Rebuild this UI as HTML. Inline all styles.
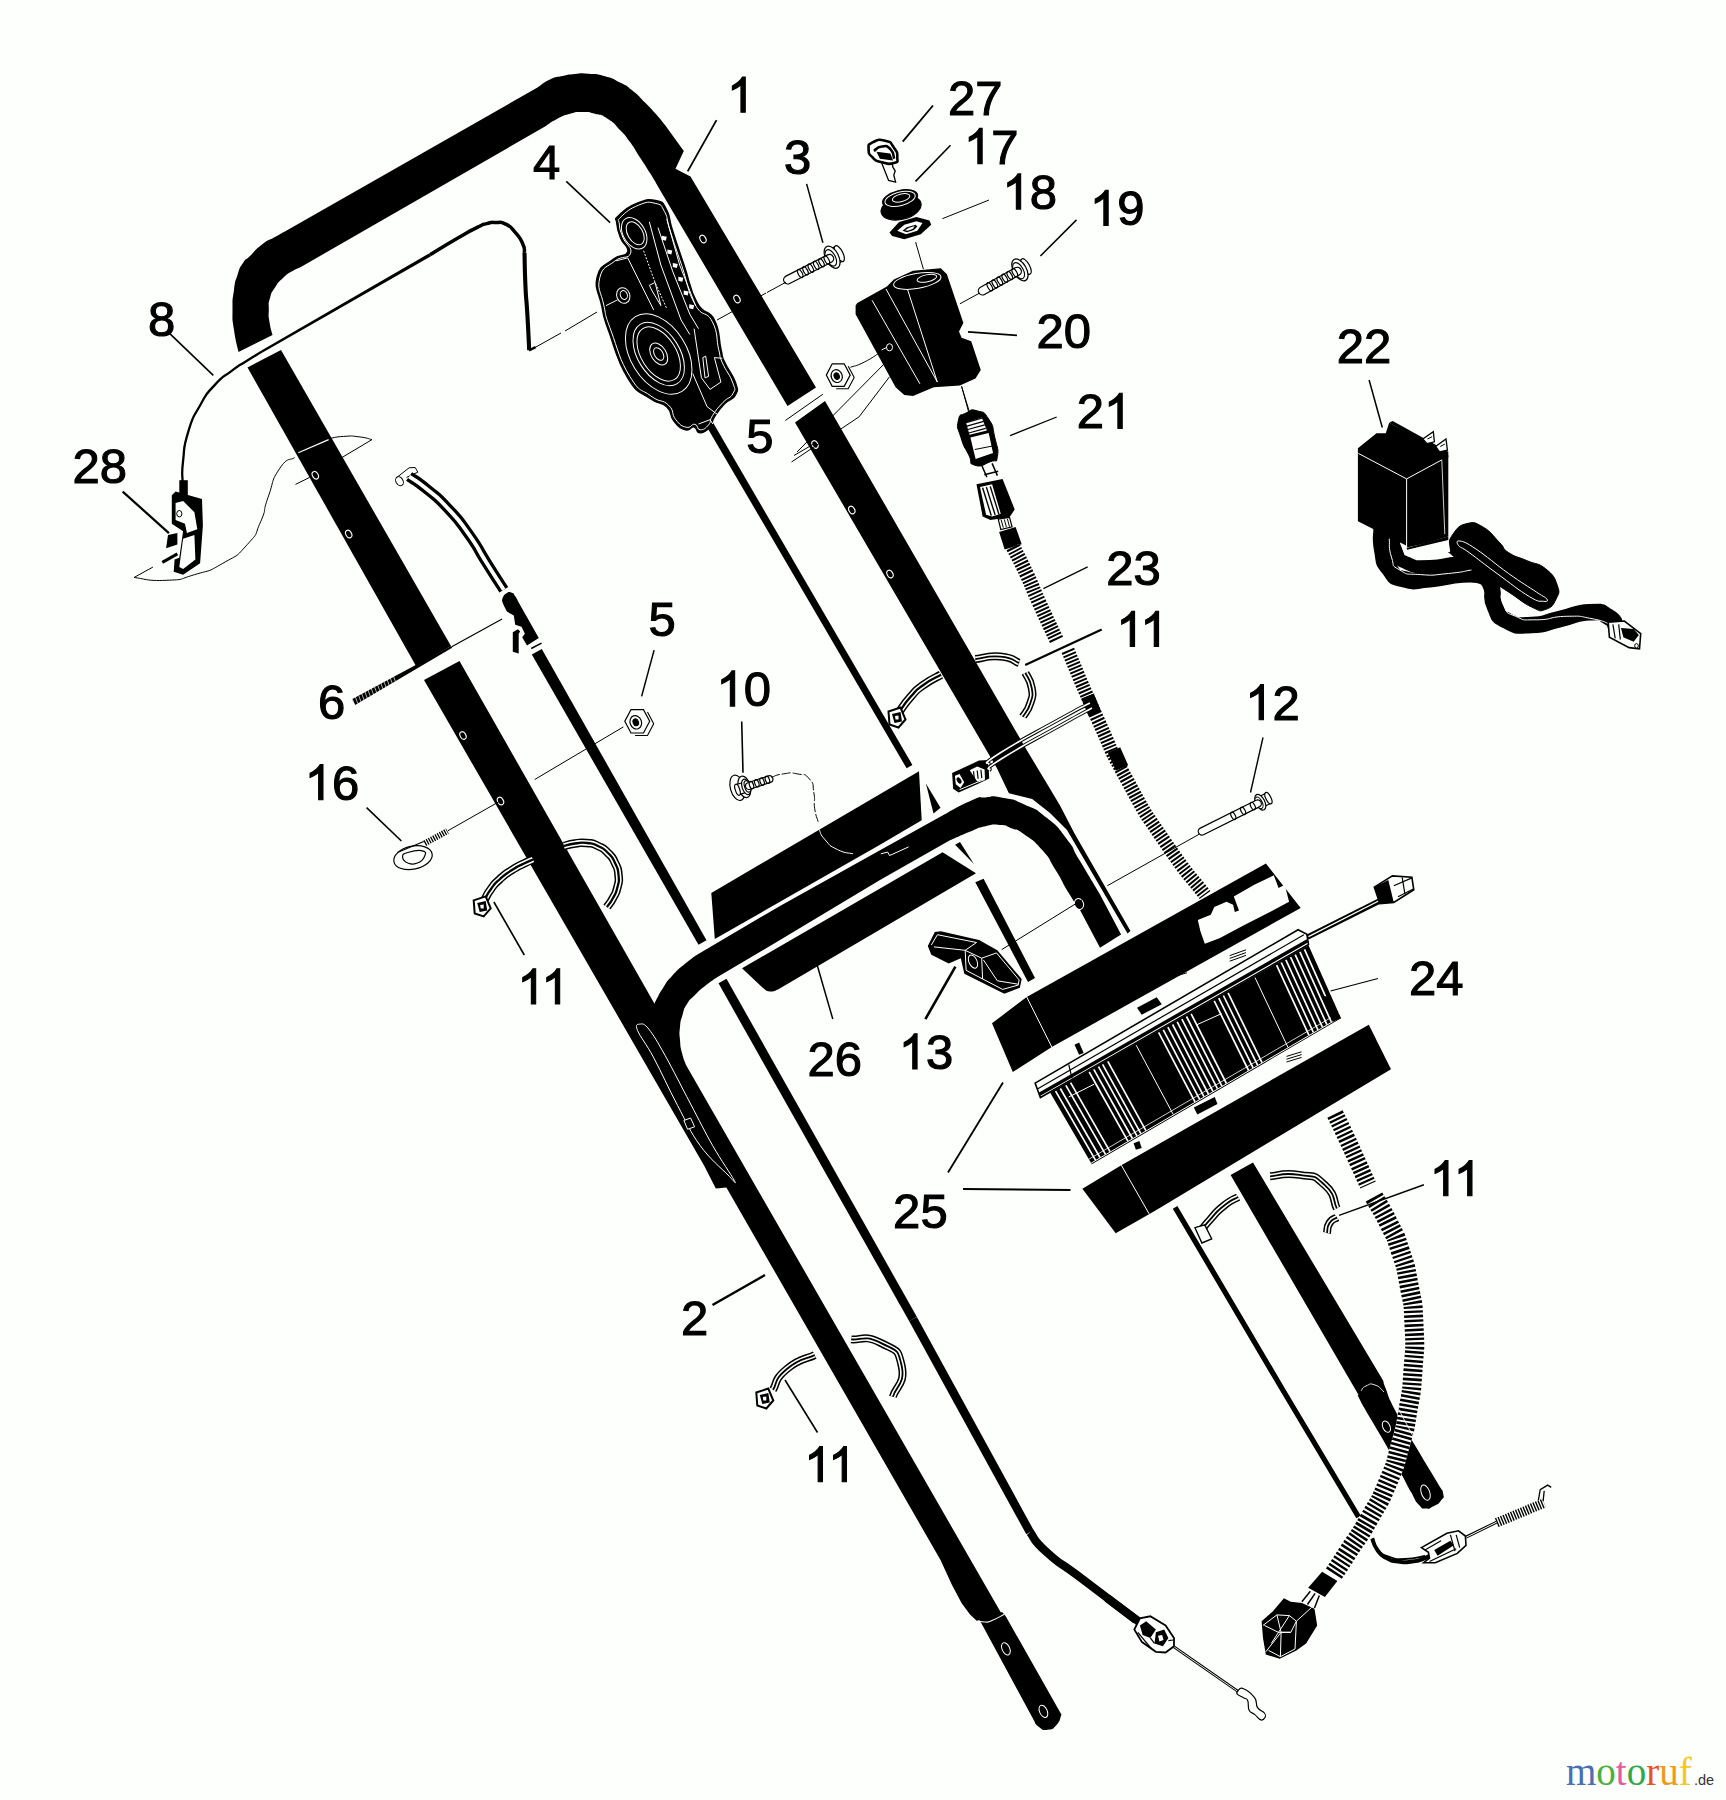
<!DOCTYPE html>
<html><head><meta charset="utf-8"><title>Parts diagram</title>
<style>
html,body{margin:0;padding:0;background:#fdfffd;}
body{width:1726px;height:1800px;overflow:hidden;}
svg{display:block;}
text{font-family:"Liberation Sans",sans-serif;fill:#000;}
.lb{stroke:#000;stroke-width:1.1px;}
</style></head><body>
<svg xmlns="http://www.w3.org/2000/svg" width="1726" height="1800" viewBox="0 0 1726 1800">
<rect width="1726" height="1800" fill="#fdfffd"/>
<path d="M238.5,352.0 C237.0,344.7 236.0,344.0 234.0,330.0 C232.0,316.0 232.5,323.3 232.5,310.0 C232.5,296.7 232.3,301.7 234.0,290.0 C235.7,278.3 234.5,284.0 237.5,275.0 C240.5,266.0 238.8,269.3 243.0,263.0 C247.2,256.7 243.7,262.2 250.0,256.0 C256.3,249.8 253.7,250.8 262.0,244.5 C270.3,238.2 266.5,241.8 275.0,237.0 C283.5,232.2 283.3,232.3 287.5,230.0 L537.5,87.5 C541.7,84.8 541.7,83.3 550.0,79.5 C558.3,75.7 554.2,77.8 562.5,76.0 C570.8,74.2 566.7,74.8 575.0,74.0 C583.3,73.2 577.8,73.1 587.5,73.8 C597.2,74.4 593.2,73.1 604.0,76.0 C614.8,78.9 610.3,77.5 620.0,82.5 C629.7,87.5 624.7,84.3 633.0,91.0 C641.3,97.7 637.7,95.2 645.0,102.5 C652.3,109.8 648.3,105.5 655.0,113.0 C661.7,120.5 661.7,121.0 665.0,125.0 L683.8,151.0 L675.5,168.8 L690.5,176.5 L816.0,387.5 L787.5,406.0 L660.0,190.0 C656.7,184.3 656.7,183.8 650.0,173.0 C643.3,162.2 646.7,167.8 640.0,157.5 C633.3,147.2 636.7,151.2 630.0,142.0 C623.3,132.8 627.3,137.7 620.0,130.0 C612.7,122.3 616.3,124.4 608.0,119.0 C599.7,113.6 603.7,116.1 595.0,113.8 C586.3,111.4 590.3,112.0 582.0,112.0 C573.7,112.0 578.3,111.4 570.0,113.8 C561.7,116.1 565.3,114.8 557.0,119.0 C548.7,123.2 549.0,124.0 545.0,126.5 L300.0,267.5 C297.5,268.7 298.2,267.5 292.5,271.0 C286.8,274.5 288.8,272.5 283.0,278.0 C277.2,283.5 279.3,280.8 275.0,287.5 C270.7,294.2 272.1,290.5 270.0,298.0 C267.9,305.5 268.9,302.0 268.8,310.0 C268.6,318.0 268.2,313.7 269.5,322.0 C270.8,330.3 271.5,330.7 272.5,335.0Z" fill="#000" stroke="none" stroke-width="0" />
<polygon points="247.5,367.5 416.0,666.0 451.0,646.0 281.0,350.0" fill="#000" stroke="none" stroke-width="0" />
<polygon points="424.0,680.0 704.2,1165.8 715.8,1188.5 726.4,1187.5 740.0,1180.0 653.8,1002.5 459.5,661.0" fill="#000" stroke="none" stroke-width="0" />
<polygon points="795.0,422.5 825.0,401.0 1026.7,750.0 1046.7,783.3 1060.0,805.6 1074.4,833.3 1130.5,931.0 1127.5,933.5 1067.0,830.0 1050.0,813.0 1032.2,798.9 1008.9,793.3 996.7,767.8" fill="#000" stroke="none" stroke-width="0" />
<path d="M700.0,953.0 C695.3,956.3 695.3,955.3 686.0,963.0 C676.7,970.7 679.7,967.7 672.0,976.0 C664.3,984.3 667.8,980.8 663.0,988.0 C658.2,995.2 660.6,991.8 657.5,997.5 C654.4,1003.2 655.0,1002.5 653.8,1005.0 L640.0,1010.0 L726.4,1187.5 L940.5,1560.0 L952.0,1585.0 L961.7,1603.3 L970.0,1614.5 L977.0,1621.0 L1002.0,1614.5 L686.0,1065.0 C684.7,1061.0 684.0,1061.3 682.0,1053.0 C680.0,1044.7 680.7,1048.7 680.0,1040.0 C679.3,1031.3 679.2,1035.3 680.0,1027.0 C680.8,1018.7 680.2,1022.7 682.5,1015.0 C684.8,1007.3 682.8,1010.7 687.0,1004.0 C691.2,997.3 689.0,1001.0 695.0,995.0 C701.0,989.0 697.5,992.0 705.0,986.0 C712.5,980.0 713.3,980.0 717.5,977.0 L780.0,940.0 L880.0,880.1 L949.5,840.5 C956.5,837.5 958.8,836.2 970.4,831.5 C982.0,826.8 974.4,828.7 984.3,826.5 C994.2,824.3 990.8,824.3 1000.0,825.0 C1009.2,825.7 1003.9,825.4 1012.0,828.5 C1020.1,831.6 1014.3,827.2 1024.4,834.4 C1034.5,841.6 1031.8,838.1 1042.2,850.0 C1052.6,861.9 1046.7,855.6 1055.6,870.0 C1064.5,884.4 1060.8,880.0 1068.9,893.3 C1077.0,906.6 1076.3,904.4 1080.0,910.0 L1100.0,947.8 L1121.1,934.4 L1100.0,894.4 C1093.3,883.3 1091.1,879.6 1080.0,861.1 C1068.9,842.6 1077.8,853.3 1066.7,838.9 C1055.6,824.5 1060.8,829.3 1046.7,817.8 C1032.6,806.3 1039.2,811.1 1024.4,804.4 C1009.6,797.7 1015.1,800.1 1002.2,797.8 C989.3,795.5 996.3,796.4 985.7,797.4 C975.1,798.4 985.7,794.4 970.4,800.9 C955.1,807.4 950.0,811.6 939.8,816.9 L880.0,850.2 L780.0,905.9Z" fill="#000" stroke="none" stroke-width="0" />
<ellipse cx="1079.0" cy="904.0" rx="4.5" ry="5.5" transform="rotate(-20.0 1079.0 904.0)" fill="#000" stroke="#fff" stroke-width="1" />
<path d="M974.6,1612.3 L981.5,1623.4 L1033.7,1720.0 C1035.4,1722.4 1034.3,1723.7 1038.9,1727.0 C1043.5,1730.2 1041.8,1730.3 1047.6,1729.8 C1053.4,1729.2 1051.6,1730.2 1056.3,1725.3 C1060.9,1720.3 1059.7,1718.3 1061.5,1714.8 L1005.9,1616.5 L1002.4,1612.3Z" fill="#000" stroke="none" stroke-width="0" />
<path d="M1230.6,1175.0 L1253.0,1162.5 L1384.0,1382.0 C1384.5,1384.0 1381.5,1378.0 1385.5,1388.0 C1389.5,1398.0 1385.8,1392.3 1396.0,1412.0 C1406.2,1431.7 1402.3,1423.7 1416.0,1447.0 C1429.7,1470.3 1428.0,1466.7 1437.0,1482.0 C1446.0,1497.3 1441.7,1486.8 1443.0,1493.0 C1444.3,1499.2 1444.3,1496.0 1441.0,1500.5 C1437.7,1505.0 1438.0,1503.8 1433.0,1506.5 C1428.0,1509.2 1430.7,1509.0 1426.0,1508.5 C1421.3,1508.0 1424.0,1510.5 1419.0,1505.0 C1414.0,1499.5 1416.3,1501.3 1411.0,1492.0 C1405.7,1482.7 1410.0,1490.3 1403.0,1477.0 C1396.0,1463.7 1400.3,1470.7 1390.0,1452.0 C1379.7,1433.3 1382.0,1438.3 1372.0,1421.0 C1362.0,1403.7 1364.5,1408.7 1360.0,1400.0 C1355.5,1391.3 1359.1,1396.7 1358.6,1395.0Z" fill="#000" stroke="none" stroke-width="0" />
<polygon points="711.3,892.9 919.0,771.3 921.7,820.3 880.0,844.7 714.8,939.0" fill="#000" stroke="none" stroke-width="0" />
<path d="M742.0,968.3 L880.0,888.5 L942.6,852.3 L976.0,873.2 L828.2,960.0 L778.0,989.5 C775.3,990.2 775.0,992.0 770.0,991.5 C765.0,991.0 765.3,989.2 763.0,988.0Z" fill="#000" stroke="none" stroke-width="0" />
<polygon points="992.0,1023.3 1026.7,996.9 1265.9,863.4 1300.7,907.9 1051.8,1047.0 1012.8,1072.0" fill="#000" stroke="none" stroke-width="0" />
<line x1="1026.7" y1="996.9" x2="1051.8" y2="1047.0" stroke="#fff" stroke-width="1" />
<polygon points="1082.4,1188.8 1121.3,1165.2 1368.8,1024.7 1391.0,1069.2 1154.7,1211.0 1115.7,1233.3" fill="#000" stroke="none" stroke-width="0" />
<line x1="1121.3" y1="1165.2" x2="1149.1" y2="1213.8" stroke="#fff" stroke-width="1" />
<polygon points="1050.1,1092.4 1308.5,945.2 1341.0,1018.2 1091.8,1164.2" fill="#000" stroke="none" stroke-width="0" />
<line x1="1055.6" y1="1091.1" x2="1095.5" y2="1160.1" stroke="#fff" stroke-width="1.7" />
<line x1="1060.3" y1="1088.5" x2="1100.0" y2="1157.5" stroke="#fff" stroke-width="1.7" />
<line x1="1065.9" y1="1085.3" x2="1105.5" y2="1154.3" stroke="#fff" stroke-width="1.7" />
<line x1="1070.6" y1="1082.6" x2="1110.0" y2="1151.7" stroke="#fff" stroke-width="1.7" />
<line x1="1089.2" y1="1072.0" x2="1127.9" y2="1141.1" stroke="#fff" stroke-width="1.7" />
<line x1="1093.8" y1="1069.4" x2="1132.4" y2="1138.5" stroke="#fff" stroke-width="1.7" />
<line x1="1098.5" y1="1066.7" x2="1136.9" y2="1135.9" stroke="#fff" stroke-width="1.7" />
<line x1="1102.6" y1="1064.4" x2="1140.9" y2="1133.6" stroke="#fff" stroke-width="1.7" />
<line x1="1107.8" y1="1061.4" x2="1145.9" y2="1130.6" stroke="#fff" stroke-width="1.7" />
<line x1="1136.2" y1="1045.2" x2="1173.3" y2="1114.6" stroke="#fff" stroke-width="1.0" />
<line x1="1158.6" y1="1032.4" x2="1195.0" y2="1101.9" stroke="#fff" stroke-width="1.7" />
<line x1="1163.3" y1="1029.8" x2="1199.5" y2="1099.2" stroke="#fff" stroke-width="1.7" />
<line x1="1167.9" y1="1027.1" x2="1203.9" y2="1096.6" stroke="#fff" stroke-width="1.7" />
<line x1="1172.6" y1="1024.5" x2="1208.4" y2="1094.0" stroke="#fff" stroke-width="1.7" />
<line x1="1177.2" y1="1021.8" x2="1212.9" y2="1091.4" stroke="#fff" stroke-width="1.7" />
<line x1="1181.9" y1="1019.2" x2="1217.4" y2="1088.7" stroke="#fff" stroke-width="1.7" />
<line x1="1186.5" y1="1016.5" x2="1221.9" y2="1086.1" stroke="#fff" stroke-width="1.7" />
<line x1="1191.2" y1="1013.9" x2="1226.4" y2="1083.5" stroke="#fff" stroke-width="1.7" />
<line x1="1214.2" y1="1000.8" x2="1248.6" y2="1070.5" stroke="#fff" stroke-width="1.7" />
<line x1="1218.8" y1="998.1" x2="1253.1" y2="1067.8" stroke="#fff" stroke-width="1.7" />
<line x1="1223.4" y1="995.5" x2="1257.6" y2="1065.2" stroke="#fff" stroke-width="1.7" />
<line x1="1228.1" y1="992.9" x2="1262.0" y2="1062.6" stroke="#fff" stroke-width="1.7" />
<line x1="1255.0" y1="977.6" x2="1288.0" y2="1047.4" stroke="#fff" stroke-width="1.0" />
<line x1="1276.6" y1="965.2" x2="1308.9" y2="1035.1" stroke="#fff" stroke-width="1.7" />
<line x1="1281.3" y1="962.5" x2="1313.4" y2="1032.5" stroke="#fff" stroke-width="1.7" />
<line x1="1285.9" y1="959.9" x2="1317.9" y2="1029.9" stroke="#fff" stroke-width="1.7" />
<line x1="1290.6" y1="957.2" x2="1322.4" y2="1027.2" stroke="#fff" stroke-width="1.7" />
<line x1="1295.2" y1="954.6" x2="1326.9" y2="1024.6" stroke="#fff" stroke-width="1.7" />
<line x1="1299.9" y1="951.9" x2="1331.3" y2="1022.0" stroke="#fff" stroke-width="1.7" />
<line x1="1304.5" y1="949.3" x2="1335.8" y2="1019.4" stroke="#fff" stroke-width="1.7" />
<line x1="1091.2" y1="1163.1" x2="1340.5" y2="1017.1" stroke="#fff" stroke-width="1" />
<line x1="1088.9" y1="1159.2" x2="1338.7" y2="1013.1" stroke="#fff" stroke-width="0.8" />
<line x1="1068.7" y1="1097.0" x2="1094.2" y2="1084.2" stroke="#fff" stroke-width="1" />
<line x1="1196.1" y1="1025.1" x2="1221.6" y2="1013.6" stroke="#fff" stroke-width="1" />
<polygon points="1321.3,996.2 1329.4,996.2 1341.0,1018.2 1332.9,1021.7" fill="#000" stroke="none" stroke-width="0" />
<polygon points="1035.1,1083.1 1298.1,929.7 1306.9,934.3 1308.5,944.5 1040.4,1097.5" fill="#fdfffd" stroke="#000" stroke-width="1.6" />
<line x1="1037.4" y1="1088.9" x2="1303.9" y2="934.8" stroke="#000" stroke-width="1.2" />
<line x1="1039.5" y1="1094.2" x2="1307.6" y2="940.8" stroke="#000" stroke-width="3.4" />
<line x1="1068.7" y1="1064.5" x2="1072.1" y2="1078.4" stroke="#000" stroke-width="1.2" />
<polygon points="1137.0,1007.8 1156.7,997.3 1161.8,1004.3 1141.7,1014.7" fill="#000" stroke="none" stroke-width="0" />
<polygon points="1193.8,1107.4 1214.7,1097.0 1217.5,1103.9 1197.3,1114.4" fill="#000" stroke="none" stroke-width="0" />
<polygon points="1074.5,1044.8 1079.1,1042.5 1083.7,1053.0 1079.1,1054.8" fill="#000" stroke="none" stroke-width="0" />
<polygon points="1133.6,1143.3 1139.4,1141.0 1141.7,1148.0 1135.9,1149.8" fill="#000" stroke="none" stroke-width="0" />
<line x1="1229.7" y1="955.6" x2="1246.0" y2="949.8" stroke="#000" stroke-width="1" />
<line x1="1229.7" y1="958.4" x2="1246.0" y2="952.6" stroke="#000" stroke-width="1" />
<line x1="1229.7" y1="961.2" x2="1246.0" y2="955.4" stroke="#000" stroke-width="1" />
<line x1="1175.3" y1="970.7" x2="1186.9" y2="967.2" stroke="#000" stroke-width="1" />
<line x1="1175.3" y1="973.5" x2="1186.9" y2="970.0" stroke="#000" stroke-width="1" />
<line x1="1175.3" y1="976.2" x2="1186.9" y2="972.8" stroke="#000" stroke-width="1" />
<line x1="1248.3" y1="1095.8" x2="1261.0" y2="1091.2" stroke="#000" stroke-width="1" />
<line x1="1248.3" y1="1098.6" x2="1261.0" y2="1094.0" stroke="#000" stroke-width="1" />
<line x1="1248.3" y1="1101.4" x2="1261.0" y2="1096.8" stroke="#000" stroke-width="1" />
<line x1="1286.5" y1="1056.4" x2="1301.6" y2="1051.8" stroke="#000" stroke-width="1" />
<line x1="1286.5" y1="1059.2" x2="1301.6" y2="1054.6" stroke="#000" stroke-width="1" />
<line x1="1286.5" y1="1062.0" x2="1301.6" y2="1057.4" stroke="#000" stroke-width="1" />
<path d="M1307.4,937.1 L1381.5,900.0" fill="none" stroke="#000" stroke-width="5.5" stroke-linecap="butt" stroke-linejoin="round"/>
<line x1="1308.5" y1="936.6" x2="1381.5" y2="899.5" stroke="#fff" stroke-width="1.3" />
<polygon points="1374.3,887.1 1392.4,875.9 1411.9,877.3 1413.8,889.8 1393.8,902.4 1379.9,903.7" fill="#fdfffd" stroke="#000" stroke-width="1.6" />
<polygon points="1374.3,887.1 1388.3,880.1 1393.8,902.4 1379.9,903.7" fill="#000" stroke="none" stroke-width="0" />
<line x1="1393.8" y1="885.7" x2="1411.9" y2="877.9" stroke="#000" stroke-width="1.2" />
<line x1="1398.0" y1="896.8" x2="1413.3" y2="889.0" stroke="#000" stroke-width="1.2" />
<line x1="1402.2" y1="877.3" x2="1404.9" y2="894.0" stroke="#000" stroke-width="1.2" />
<polygon points="1197.8,919.9 1210.8,914.7 1214.3,906.9 1226.5,901.7 1233.1,904.8 1234.8,912.1 1239.0,910.4 1233.8,896.5 1254.3,884.7 1273.8,875.3 1278.6,888.1 1284.7,884.7 1289.1,901.7 1269.9,912.1 1243.9,925.2 1219.5,938.2 1204.8,943.8 1200.4,931.2" fill="#fdfffd" stroke="none" stroke-width="0" />
<polygon points="1357.9,448.3 1376.5,433.3 1385.7,433.3 1389.2,422.8 1448.3,455.3 1448.3,536.4 1406.6,549.1 1406.6,545.7 1374.2,529.4 1357.9,521.3" fill="#000" stroke="none" stroke-width="0" />
<ellipse cx="315.3" cy="475.2" rx="2.8" ry="4.0" transform="rotate(-30.0 315.3 475.2)" fill="#000" stroke="#fff" stroke-width="1.1" />
<ellipse cx="348.7" cy="534.0" rx="2.8" ry="4.0" transform="rotate(-30.0 348.7 534.0)" fill="#000" stroke="#fff" stroke-width="1.1" />
<ellipse cx="463.0" cy="735.5" rx="2.8" ry="4.0" transform="rotate(-30.0 463.0 735.5)" fill="#000" stroke="#fff" stroke-width="1.1" />
<ellipse cx="500.5" cy="801.0" rx="2.8" ry="4.0" transform="rotate(-30.0 500.5 801.0)" fill="#000" stroke="#fff" stroke-width="1.1" />
<ellipse cx="703.0" cy="239.0" rx="2.8" ry="4.0" transform="rotate(-30.0 703.0 239.0)" fill="#000" stroke="#fff" stroke-width="1.1" />
<ellipse cx="737.0" cy="299.0" rx="2.8" ry="4.0" transform="rotate(-30.0 737.0 299.0)" fill="#000" stroke="#fff" stroke-width="1.1" />
<ellipse cx="815.0" cy="444.5" rx="2.8" ry="4.0" transform="rotate(-30.0 815.0 444.5)" fill="#000" stroke="#fff" stroke-width="1.1" />
<ellipse cx="851.8" cy="510.0" rx="2.8" ry="4.0" transform="rotate(-30.0 851.8 510.0)" fill="#000" stroke="#fff" stroke-width="1.1" />
<ellipse cx="890.0" cy="574.0" rx="2.8" ry="4.0" transform="rotate(-30.0 890.0 574.0)" fill="#000" stroke="#fff" stroke-width="1.1" />
<path d="M182.5,481.0 C182.7,474.2 181.2,477.1 183.1,460.7 C185.0,444.3 182.7,450.0 188.3,431.7 C193.9,413.4 191.2,421.1 199.9,405.7 C208.6,390.3 203.8,397.0 214.4,385.4 C225.0,373.8 221.1,379.0 231.7,370.9 C242.3,362.8 236.1,367.7 246.2,361.2 C256.3,354.7 256.7,354.7 262.0,351.5" fill="none" stroke="#000" stroke-width="2.3" />
<polygon points="261.4,350.6 429.1,253.4 430.9,256.2 262.6,352.4" fill="#000" stroke="none" stroke-width="0" />
<path d="M430.0,254.8 C439.4,249.1 442.6,246.9 458.3,237.8 C474.0,228.7 467.7,232.1 477.2,227.4 C486.7,222.7 480.4,225.2 486.7,223.6 C493.0,222.0 489.8,222.3 496.1,222.5 C502.4,222.7 499.3,220.9 505.6,224.1 C511.9,227.3 509.3,225.6 515.0,232.1 C520.7,238.6 519.4,236.6 522.6,243.5 C525.8,250.4 523.9,249.8 524.5,252.9" fill="none" stroke="#000" stroke-width="3.5" />
<path d="M524.5,252.9 C524.8,263.6 524.5,264.8 525.4,285.0 C526.3,305.2 526.0,291.7 527.3,313.4 C528.6,335.1 528.6,337.9 529.2,350.2" fill="none" stroke="#000" stroke-width="4.1" />
<line x1="529.0" y1="350.5" x2="535.5" y2="347.2" stroke="#000" stroke-width="2.5" />
<path d="M328.6,438.7 C333.6,437.9 333.6,437.0 343.7,436.4 C353.7,435.8 349.3,435.7 358.8,436.8 C368.2,437.9 367.6,438.7 372.0,439.6" fill="none" stroke="#000" stroke-width="1" />
<line x1="372.0" y1="439.6" x2="341.8" y2="457.6" stroke="#000" stroke-width="1" />
<line x1="298.3" y1="452.8" x2="328.6" y2="439.6" stroke="#fff" stroke-width="1.2" />
<path d="M294.6,457.6 C289.5,461.3 288.3,455.7 279.4,468.9 C270.6,482.1 274.4,479.6 268.1,497.2 C261.8,514.9 267.5,506.0 260.6,521.8 C253.6,537.5 259.9,530.6 247.3,544.5 C234.7,558.3 240.4,553.3 222.8,563.3 C205.2,573.4 213.3,569.0 194.4,574.7 C175.6,580.3 186.3,579.4 166.1,580.3 C146.0,581.3 144.7,578.5 134.0,577.5" fill="none" stroke="#000" stroke-width="1" />
<line x1="134.0" y1="577.5" x2="152.9" y2="567.1" stroke="#000" stroke-width="1" />
<line x1="295.5" y1="484.4" x2="309.7" y2="477.4" stroke="#000" stroke-width="1" />
<polygon points="179.3,480.2 187.8,480.2 187.8,495.3 179.3,495.3" fill="#000" stroke="none" stroke-width="0" />
<path d="M171.8,495.3 L175.6,491.6 L188.8,495.3 L202.0,499.1 L202.9,525.6 L200.1,563.3 L183.1,574.7 L173.7,571.8 L174.6,559.6 L179.3,557.7 L183.1,531.2 L171.8,523.7Z" fill="#000" stroke="none" stroke-width="0" />
<polygon points="175.6,502.9 183.1,501.0 194.4,512.3 197.3,529.3 186.9,533.1 185.0,523.7 175.6,519.9" fill="#fdfffd" stroke="none" stroke-width="0" />
<polygon points="183.1,538.8 194.4,535.0 195.4,559.6 183.1,569.0 179.3,567.1" fill="#fdfffd" stroke="none" stroke-width="0" />
<ellipse cx="179.3" cy="513.7" rx="2.6" ry="3.2" transform="rotate(0.0 179.3 513.7)" fill="none" stroke="#000" stroke-width="1" />
<polygon points="168.0,535.0 177.4,533.1 177.4,544.5 166.1,548.2" fill="#000" stroke="none" stroke-width="0" />
<line x1="162.3" y1="562.4" x2="177.4" y2="553.9" stroke="#000" stroke-width="3" />
<polyline points="396.9,477.4 409.1,467.8 415.2,467.5 417.8,472.2 406.5,477.4" fill="none" stroke="#000" stroke-width="1" />
<ellipse cx="399.5" cy="481.2" rx="3.5" ry="4.8" transform="rotate(-30.0 399.5 481.2)" fill="#fdfffd" stroke="#000" stroke-width="1" />
<path d="M409.1,476.5 C415.2,480.8 414.3,478.8 427.3,489.5 C440.4,500.3 434.3,493.6 448.2,508.7 C462.1,523.7 456.3,516.8 469.1,534.7 C481.8,552.7 474.9,544.2 486.4,562.5 C498.0,580.9 498.0,580.7 503.8,589.8" fill="none" stroke="#000" stroke-width="10.5" stroke-linecap="butt" stroke-linejoin="round"/>
<path d="M409.1,476.5 C415.2,480.8 414.3,478.8 427.3,489.5 C440.4,500.3 434.3,493.6 448.2,508.7 C462.1,523.7 456.3,516.8 469.1,534.7 C481.8,552.7 474.9,544.2 486.4,562.5 C498.0,580.9 498.0,580.7 503.8,589.8" fill="none" stroke="#fdfffd" stroke-width="3.9000000000000004" stroke-linecap="butt" stroke-linejoin="round"/>
<path d="M502.7,597.6 C503.8,596.2 503.1,595.0 506.2,593.4 C509.2,591.8 508.7,591.8 511.7,592.7 C514.7,593.6 512.9,592.9 515.2,596.2 C517.5,599.4 517.5,600.3 518.7,602.4 L538.8,637.9 L527.0,645.5 L522.2,637.2 L524.9,633.7 L521.5,626.8 L515.2,624.7 L513.8,615.6 L506.9,611.5 C505.7,609.1 505.0,608.2 503.4,604.5 C501.8,600.8 502.5,601.7 502.0,600.3Z" fill="#000" stroke="none" stroke-width="0" />
<polygon points="512.8,632.3 518.0,629.2 520.1,631.6 518.7,633.7 518.7,653.5 512.8,651.8" fill="#000" stroke="none" stroke-width="0" />
<line x1="531.2" y1="648.5" x2="541.6" y2="643.1" stroke="#000" stroke-width="1.6" />
<polygon points="531.8,654.6 698.5,944.8 706.5,940.2 541.8,648.9" fill="#000" stroke="none" stroke-width="0" />
<polygon points="718.5,983.3 909.2,1321.2 916.8,1316.8 726.5,978.7" fill="#000" stroke="none" stroke-width="0" />
<polygon points="909.1,1321.1 1026.3,1534.3 1033.7,1530.3 916.9,1316.9" fill="#000" stroke="none" stroke-width="0" />
<path d="M1030.0,1532.3 C1035.9,1539.2 1030.2,1537.4 1047.6,1553.0 C1065.0,1568.6 1052.8,1556.7 1082.3,1579.0 C1111.8,1601.3 1118.1,1606.3 1136.0,1620.0" fill="none" stroke="#000" stroke-width="8.3" stroke-linecap="butt" stroke-linejoin="round"/>
<polygon points="355.1,705.0 452.2,647.8 451.1,645.9 351.9,699.3" fill="#000" stroke="none" stroke-width="0" />
<line x1="451.7" y1="646.8" x2="502.1" y2="619.0" stroke="#000" stroke-width="1.2" />
<line x1="352.3" y1="698.9" x2="354.7" y2="705.3" stroke="#fdfffd" stroke-width="0.7" />
<line x1="355.4" y1="697.1" x2="357.8" y2="703.5" stroke="#fdfffd" stroke-width="0.7" />
<line x1="358.6" y1="695.4" x2="361.0" y2="701.8" stroke="#fdfffd" stroke-width="0.7" />
<line x1="361.7" y1="693.6" x2="364.1" y2="700.0" stroke="#fdfffd" stroke-width="0.7" />
<line x1="364.9" y1="691.8" x2="367.3" y2="698.2" stroke="#fdfffd" stroke-width="0.7" />
<line x1="368.0" y1="690.0" x2="370.4" y2="696.4" stroke="#fdfffd" stroke-width="0.7" />
<line x1="371.2" y1="688.3" x2="373.6" y2="694.7" stroke="#fdfffd" stroke-width="0.7" />
<line x1="374.4" y1="686.5" x2="376.8" y2="692.9" stroke="#fdfffd" stroke-width="0.7" />
<line x1="377.5" y1="684.7" x2="379.9" y2="691.1" stroke="#fdfffd" stroke-width="0.7" />
<line x1="380.7" y1="682.9" x2="383.1" y2="689.3" stroke="#fdfffd" stroke-width="0.7" />
<line x1="383.8" y1="681.2" x2="386.2" y2="687.6" stroke="#fdfffd" stroke-width="0.7" />
<line x1="387.0" y1="679.4" x2="389.4" y2="685.8" stroke="#fdfffd" stroke-width="0.7" />
<line x1="390.1" y1="677.6" x2="392.5" y2="684.0" stroke="#fdfffd" stroke-width="0.7" />
<line x1="393.3" y1="675.8" x2="395.7" y2="682.2" stroke="#fdfffd" stroke-width="0.7" />
<polygon points="706.3,425.9 906.6,768.3 912.4,764.9 712.7,422.1" fill="#000" stroke="none" stroke-width="0" />
<polygon points="925.9,783.5 940.5,807.8 933.5,813.4" fill="#000" stroke="none" stroke-width="0" />
<polygon points="955.1,844.7 960.0,841.9 973.9,864.1" fill="#000" stroke="none" stroke-width="0" />
<polygon points="975.3,882.2 983.6,878.7 1035.0,978.0 1028.0,982.0" fill="#000" stroke="none" stroke-width="0" />
<path d="M1175.1,1207.4 L1282.8,1390.0 L1358.6,1517.0" fill="none" stroke="#000" stroke-width="5.3" stroke-linecap="butt" stroke-linejoin="round"/>
<path d="M1372.5,1539.3 C1374.3,1542.9 1372.2,1544.1 1378.0,1550.0 C1383.8,1555.9 1381.0,1554.0 1390.0,1557.0 C1399.0,1560.0 1393.3,1559.3 1405.0,1559.0 C1416.7,1558.7 1418.3,1557.0 1425.0,1556.0" fill="none" stroke="#000" stroke-width="1.8" />
<path d="M619.0,215.3 C624.6,209.9 627.8,206.9 637.8,203.0 C647.8,199.1 648.9,198.9 656.6,200.8 C664.3,202.8 662.4,202.3 666.7,210.2 C670.9,218.1 667.8,215.8 672.5,230.5 C677.1,245.1 677.5,245.9 684.0,265.1 C690.6,284.4 688.9,288.0 697.0,302.7 C705.1,317.3 708.0,307.7 714.4,320.0 C720.7,332.3 718.2,337.7 720.9,348.9 C723.6,360.1 720.6,353.1 724.5,361.9 C728.3,370.8 732.4,373.3 735.3,382.1 C738.2,391.0 738.2,389.4 735.3,395.1 C732.4,400.9 730.1,398.0 724.5,403.8 C718.9,409.6 718.2,410.6 714.4,416.8 C710.5,423.0 713.9,422.7 710.0,426.9 C706.2,431.2 704.1,432.7 699.9,432.7 C695.7,432.7 698.0,427.7 694.1,426.9 C690.3,426.2 690.9,431.4 685.5,429.8 C680.1,428.3 678.9,427.3 673.9,421.1 C668.9,415.0 673.2,412.9 666.7,406.7 C660.1,400.5 659.7,405.7 649.3,398.0 C638.9,390.3 638.5,395.5 627.7,377.8 C616.9,360.1 615.8,350.8 608.9,331.6 C602.0,312.3 604.8,320.2 601.7,305.6 C598.6,290.9 594.3,289.0 597.3,276.7 C600.4,264.4 605.1,265.9 613.2,259.3 C621.3,252.8 625.7,257.9 627.7,252.1 C629.6,246.3 623.3,245.4 620.5,237.7 C617.6,230.0 617.2,229.2 616.8,223.2 C616.5,217.3 613.4,220.7 619.0,215.3Z" fill="#000" stroke="#000" stroke-width="1.5" />
<path d="M621.2,216.7 C626.3,211.7 629.5,208.8 638.5,205.2 C647.6,201.6 648.2,201.6 655.1,203.3 C662.1,205.0 660.5,204.2 664.5,211.7 C668.6,219.1 665.7,216.7 670.3,231.2 C674.9,245.6 675.3,246.4 681.8,265.8 C688.4,285.3 686.8,289.3 694.9,304.1 C702.9,319.0 705.8,309.3 712.2,321.5 C718.5,333.6 716.0,338.7 718.7,349.6 C721.4,360.6 718.5,353.8 722.3,362.6 C726.1,371.5 730.0,374.6 732.8,382.9 C735.7,391.1 735.5,388.5 732.8,393.7 C730.2,398.9 728.4,396.6 723.0,402.4 C717.6,408.1 716.5,409.4 712.6,415.4 C708.8,421.3 711.9,420.9 708.6,424.8 C705.3,428.6 703.9,429.9 700.2,429.8 C696.5,429.7 698.6,425.0 694.9,424.3 C691.1,423.6 691.3,428.5 686.2,427.2 C681.1,425.9 680.4,425.3 675.6,419.4 C670.9,413.5 675.0,411.2 668.4,405.0 C661.8,398.7 661.1,403.5 650.8,395.9 C640.5,388.2 640.4,393.7 629.8,376.4 C619.2,359.0 618.0,349.8 611.1,330.9 C604.1,311.9 606.8,319.3 603.8,305.1 C600.8,291.0 596.9,289.4 599.8,277.7 C602.7,266.0 606.5,267.7 614.7,261.2 C622.9,254.7 628.4,259.7 630.6,253.3 C632.7,246.9 625.8,245.1 622.8,237.2 C619.8,229.4 619.7,229.4 619.3,223.9 C618.9,218.5 616.0,221.7 621.2,216.7Z" fill="none" stroke="#fff" stroke-width="1" />
<ellipse cx="658.7" cy="354.0" rx="44.0" ry="28.0" transform="rotate(58.0 658.7 354.0)" fill="none" stroke="#fff" stroke-width="1" />
<ellipse cx="658.7" cy="354.0" rx="35.0" ry="21.0" transform="rotate(58.0 658.7 354.0)" fill="none" stroke="#fff" stroke-width="1" />
<ellipse cx="658.7" cy="354.0" rx="30.0" ry="17.5" transform="rotate(58.0 658.7 354.0)" fill="none" stroke="#fff" stroke-width="1" />
<ellipse cx="658.7" cy="354.0" rx="12.0" ry="7.5" transform="rotate(58.0 658.7 354.0)" fill="none" stroke="#fff" stroke-width="1" />
<ellipse cx="658.7" cy="354.0" rx="7.0" ry="4.2" transform="rotate(58.0 658.7 354.0)" fill="none" stroke="#fff" stroke-width="1" />
<ellipse cx="634.2" cy="233.3" rx="17.0" ry="11.0" transform="rotate(60.0 634.2 233.3)" fill="none" stroke="#fff" stroke-width="1" />
<ellipse cx="635.2" cy="233.3" rx="12.5" ry="7.5" transform="rotate(60.0 635.2 233.3)" fill="none" stroke="#fff" stroke-width="1" />
<polyline points="649.3,221.8 660.9,265.1 681.1,320.0 689.8,334.5" fill="none" stroke="#fff" stroke-width="1" />
<polyline points="658.0,227.6 672.5,270.9 689.8,314.2 698.5,328.7" fill="none" stroke="#fff" stroke-width="1" />
<polyline points="666.7,218.9 679.7,265.1 695.6,305.6" fill="none" stroke="#fff" stroke-width="1" />
<polyline points="643.6,250.7 655.1,282.5 666.7,308.5" fill="none" stroke="#fff" stroke-width="1" stroke-dasharray="2 1.5"/>
<polygon points="661.8,235.7 666.8,236.7 665.8,240.7 661.8,239.7" fill="#fff" stroke="none" stroke-width="0" />
<polygon points="667.3,249.4 672.3,250.4 671.3,254.4 667.3,253.4" fill="#fff" stroke="none" stroke-width="0" />
<polygon points="672.8,263.1 677.8,264.1 676.8,268.1 672.8,267.1" fill="#fff" stroke="none" stroke-width="0" />
<polygon points="678.3,276.8 683.3,277.8 682.3,281.8 678.3,280.8" fill="#fff" stroke="none" stroke-width="0" />
<polygon points="683.7,290.6 688.7,291.6 687.7,295.6 683.7,294.6" fill="#fff" stroke="none" stroke-width="0" />
<polygon points="689.2,304.3 694.2,305.3 693.2,309.3 689.2,308.3" fill="#fff" stroke="none" stroke-width="0" />
<polyline points="616.1,260.8 627.7,257.9 653.7,309.9" fill="none" stroke="#fff" stroke-width="1" />
<polyline points="649.3,285.3 655.1,282.5 660.9,305.6 652.2,291.1 649.3,285.3" fill="none" stroke="#fff" stroke-width="1" />
<ellipse cx="623.3" cy="295.5" rx="6.5" ry="8.0" transform="rotate(-20.0 623.3 295.5)" fill="none" stroke="#fff" stroke-width="1" />
<ellipse cx="623.8" cy="295.0" rx="3.5" ry="4.5" transform="rotate(-20.0 623.8 295.0)" fill="none" stroke="#fff" stroke-width="1" />
<polyline points="606.0,305.6 617.6,299.8" fill="none" stroke="#fff" stroke-width="1" />
<polyline points="694.1,328.7 701.4,377.8 710.0,389.4 720.9,382.1 714.4,357.6" fill="none" stroke="#fff" stroke-width="1" />
<polyline points="692.7,373.5 707.1,406.7 718.7,415.4" fill="none" stroke="#fff" stroke-width="1" />
<polyline points="702.8,357.6 705.7,356.1 708.6,376.4 705.0,377.8 702.8,357.6" fill="none" stroke="#fff" stroke-width="1" />
<polyline points="714.4,357.6 722.3,358.3" fill="none" stroke="#fff" stroke-width="1" />
<polyline points="698.5,424.0 710.0,419.7 712.9,424.0" fill="none" stroke="#fff" stroke-width="1" />
<line x1="535.0" y1="347.5" x2="561.0" y2="333.0" stroke="#000" stroke-width="1" />
<line x1="565.0" y1="331.0" x2="597.0" y2="312.0" stroke="#000" stroke-width="1" />
<line x1="717.0" y1="320.0" x2="737.0" y2="309.0" stroke="#000" stroke-width="1" />
<polygon points="855.6,305.6 857.3,303.0 886.9,286.4 893.8,279.5 913.0,270.8 940.8,268.2 946.9,274.3 963.4,322.9 959.0,331.6 961.6,337.7 971.2,341.2 980.8,369.9 975.5,378.6 959.9,385.5 933.8,387.3 913.0,395.9 904.3,395.1 895.6,387.3 855.6,314.3" fill="#000" stroke="none" stroke-width="0" />
<line x1="872.1" y1="300.3" x2="919.9" y2="383.8" stroke="#fff" stroke-width="1" />
<line x1="886.0" y1="289.0" x2="937.3" y2="382.0" stroke="#fff" stroke-width="1" />
<line x1="907.7" y1="289.9" x2="937.3" y2="382.0" stroke="#fff" stroke-width="1" />
<ellipse cx="917.3" cy="280.9" rx="24.0" ry="7.5" transform="rotate(-10.0 917.3 280.9)" fill="none" stroke="#fff" stroke-width="1" />
<ellipse cx="926.9" cy="278.3" rx="10.0" ry="3.5" transform="rotate(-12.0 926.9 278.3)" fill="none" stroke="#fff" stroke-width="1" />
<ellipse cx="889.5" cy="347.3" rx="3.0" ry="3.6" transform="rotate(0.0 889.5 347.3)" fill="none" stroke="#fff" stroke-width="1" />
<line x1="881.7" y1="349.9" x2="886.9" y2="347.3" stroke="#fff" stroke-width="1" />
<path d="M832.1,257.2 L839.3,253.6" fill="none" stroke="#000" stroke-width="17.4" stroke-linecap="butt" stroke-linejoin="round"/>
<path d="M832.1,257.2 L839.3,253.6" fill="none" stroke="#fdfffd" stroke-width="14.999999999999998" stroke-linecap="butt" stroke-linejoin="round"/>
<ellipse cx="839.3" cy="253.6" rx="3.6" ry="8.7" transform="rotate(-27.0 839.3 253.6)" fill="#fdfffd" stroke="#000" stroke-width="1.2" />
<ellipse cx="832.1" cy="257.2" rx="6.5" ry="12.0" transform="rotate(-27.0 832.1 257.2)" fill="#fdfffd" stroke="#000" stroke-width="1.2" />
<ellipse cx="830.8" cy="257.9" rx="4.7" ry="8.9" transform="rotate(-27.0 830.8 257.9)" fill="#fdfffd" stroke="#000" stroke-width="1.1" />
<path d="M787.8,279.8 L829.5,258.6" fill="none" stroke="#000" stroke-width="9.5" stroke-linecap="round" stroke-linejoin="round"/>
<path d="M787.8,279.8 L829.5,258.6" fill="none" stroke="#fdfffd" stroke-width="7.1" stroke-linecap="round" stroke-linejoin="round"/>
<ellipse cx="800.2" cy="273.5" rx="2.0" ry="4.5" transform="rotate(-27.0 800.2 273.5)" fill="none" stroke="#000" stroke-width="1.2" />
<ellipse cx="805.5" cy="270.8" rx="2.0" ry="4.5" transform="rotate(-27.0 805.5 270.8)" fill="none" stroke="#000" stroke-width="1.2" />
<ellipse cx="810.8" cy="268.1" rx="2.0" ry="4.5" transform="rotate(-27.0 810.8 268.1)" fill="none" stroke="#000" stroke-width="1.2" />
<ellipse cx="816.2" cy="265.4" rx="2.0" ry="4.5" transform="rotate(-27.0 816.2 265.4)" fill="none" stroke="#000" stroke-width="1.2" />
<ellipse cx="821.5" cy="262.7" rx="2.0" ry="4.5" transform="rotate(-27.0 821.5 262.7)" fill="none" stroke="#000" stroke-width="1.2" />
<ellipse cx="826.8" cy="260.0" rx="2.0" ry="4.5" transform="rotate(-27.0 826.8 260.0)" fill="none" stroke="#000" stroke-width="1.2" />
<path d="M1019.9,269.9 L1026.0,266.5" fill="none" stroke="#000" stroke-width="17.4" stroke-linecap="butt" stroke-linejoin="round"/>
<path d="M1019.9,269.9 L1026.0,266.5" fill="none" stroke="#fdfffd" stroke-width="14.999999999999998" stroke-linecap="butt" stroke-linejoin="round"/>
<ellipse cx="1026.0" cy="266.5" rx="3.6" ry="8.7" transform="rotate(-29.2 1026.0 266.5)" fill="#fdfffd" stroke="#000" stroke-width="1.2" />
<ellipse cx="1019.9" cy="269.9" rx="6.5" ry="12.0" transform="rotate(-29.2 1019.9 269.9)" fill="#fdfffd" stroke="#000" stroke-width="1.2" />
<ellipse cx="1018.6" cy="270.7" rx="4.7" ry="8.9" transform="rotate(-29.2 1018.6 270.7)" fill="#fdfffd" stroke="#000" stroke-width="1.1" />
<path d="M982.5,290.8 L1017.2,271.4" fill="none" stroke="#000" stroke-width="9.5" stroke-linecap="round" stroke-linejoin="round"/>
<path d="M982.5,290.8 L1017.2,271.4" fill="none" stroke="#fdfffd" stroke-width="7.1" stroke-linecap="round" stroke-linejoin="round"/>
<ellipse cx="989.8" cy="286.7" rx="2.0" ry="4.5" transform="rotate(-29.2 989.8 286.7)" fill="none" stroke="#000" stroke-width="1.2" />
<ellipse cx="994.8" cy="283.9" rx="2.0" ry="4.5" transform="rotate(-29.2 994.8 283.9)" fill="none" stroke="#000" stroke-width="1.2" />
<ellipse cx="999.8" cy="281.1" rx="2.0" ry="4.5" transform="rotate(-29.2 999.8 281.1)" fill="none" stroke="#000" stroke-width="1.2" />
<ellipse cx="1004.8" cy="278.3" rx="2.0" ry="4.5" transform="rotate(-29.2 1004.8 278.3)" fill="none" stroke="#000" stroke-width="1.2" />
<ellipse cx="1009.8" cy="275.6" rx="2.0" ry="4.5" transform="rotate(-29.2 1009.8 275.6)" fill="none" stroke="#000" stroke-width="1.2" />
<ellipse cx="1014.8" cy="272.8" rx="2.0" ry="4.5" transform="rotate(-29.2 1014.8 272.8)" fill="none" stroke="#000" stroke-width="1.2" />
<line x1="767.0" y1="292.5" x2="786.1" y2="282.1" stroke="#000" stroke-width="1" />
<line x1="959.9" y1="303.8" x2="979.0" y2="293.4" stroke="#000" stroke-width="1" />
<line x1="738.0" y1="308.5" x2="766.0" y2="293.0" stroke="#000" stroke-width="1" />
<polygon points="850.2,375.1 844.2,386.3 832.2,386.3 826.3,375.1 832.2,363.8 844.2,363.8" fill="#fdfffd" stroke="#000" stroke-width="1.2" />
<polyline points="848.2,366.3 854.2,377.6 848.2,388.8 836.2,388.8" fill="none" stroke="#000" stroke-width="1.1" />
<ellipse cx="836.7" cy="376.1" rx="5.5" ry="6.5" transform="rotate(-20.0 836.7 376.1)" fill="#fdfffd" stroke="#000" stroke-width="1.2" />
<ellipse cx="836.7" cy="376.1" rx="2.6" ry="3.4" transform="rotate(-20.0 836.7 376.1)" fill="#000" stroke="#000" stroke-width="1" />
<path d="M850.4,367.3 C855.0,365.5 854.4,367.0 864.3,362.1 C874.1,357.1 874.7,355.7 879.9,352.5" fill="none" stroke="#000" stroke-width="1" />
<line x1="883.4" y1="364.7" x2="797.0" y2="452.0" stroke="#000" stroke-width="1" />
<polyline points="889.5,376.8 859.1,416.8 791.5,462.0" fill="none" stroke="#000" stroke-width="1" />
<line x1="961.6" y1="386.4" x2="969.5" y2="415.1" stroke="#000" stroke-width="1" />
<line x1="915.6" y1="242.1" x2="923.4" y2="269.1" stroke="#000" stroke-width="1" />
<path d="M868.6,149.1 C868.6,143.9 867.5,144.9 873.0,142.2 C878.5,139.4 878.2,139.0 885.2,140.8 C892.1,142.5 889.8,141.7 893.8,147.4 C897.9,153.1 897.3,152.6 897.3,157.8 C897.3,163.0 899.1,161.6 893.8,163.0 C888.6,164.5 888.6,163.9 881.7,162.2 C874.7,160.4 877.3,162.2 873.0,157.8 C868.6,153.5 868.6,154.3 868.6,149.1Z" fill="#fdfffd" stroke="#000" stroke-width="2.6" />
<path d="M873.9,150.9 C876.5,149.4 876.2,147.1 881.7,146.5 C887.2,145.9 886.2,145.1 890.4,149.1 C894.5,153.2 892.9,155.5 894.2,158.7" fill="none" stroke="#000" stroke-width="2.6" />
<polygon points="876.5,151.7 890.4,153.5 893.0,160.4 879.9,158.7" fill="#000" stroke="none" stroke-width="0" />
<polyline points="881.7,163.0 888.6,180.4 895.6,182.1 893.8,175.2 895.2,170.8 893.0,167.4 892.1,163.0" fill="none" stroke="#000" stroke-width="1.3" />
<ellipse cx="901.1" cy="207.9" rx="20.5" ry="11.5" transform="rotate(-14.0 901.1 207.9)" fill="#000" stroke="#000" stroke-width="1" />
<ellipse cx="900.1" cy="198.9" rx="18.0" ry="8.5" transform="rotate(-14.0 900.1 198.9)" fill="#000" stroke="#000" stroke-width="1" />
<ellipse cx="900.1" cy="198.9" rx="15.5" ry="6.8" transform="rotate(-14.0 900.1 198.9)" fill="#000" stroke="#fff" stroke-width="1" />
<ellipse cx="901.1" cy="197.9" rx="9.0" ry="3.8" transform="rotate(-14.0 901.1 197.9)" fill="#000" stroke="#fff" stroke-width="1" />
<polygon points="889.5,232.6 899.1,222.1 916.4,216.9 929.5,220.4 931.2,224.7 920.8,234.3 904.3,239.2 892.1,236.0" fill="#000" stroke="none" stroke-width="0" />
<polygon points="897.3,230.8 904.3,224.7 916.4,221.3 922.5,223.0 917.3,230.8 906.0,234.3" fill="#fdfffd" stroke="none" stroke-width="0" />
<polygon points="902.5,230.8 906.9,227.3 915.6,224.7 917.3,226.5 913.8,229.9 906.9,232.2" fill="#000" stroke="none" stroke-width="0" />
<polygon points="905.1,230.3 908.6,227.9 914.7,226.1 913.0,228.7 907.7,230.8" fill="#fdfffd" stroke="none" stroke-width="0" />
<line x1="961.6" y1="386.4" x2="969.5" y2="412.2" stroke="#000" stroke-width="1" />
<path d="M958.3,420.8 C960.0,412.7 959.7,416.3 966.1,413.0 C972.4,409.7 969.8,408.9 977.4,410.9 C984.9,413.0 982.9,410.3 988.7,419.1 C994.5,427.9 991.9,424.9 994.8,437.4 C997.7,449.8 998.8,448.4 997.4,456.5 C995.9,464.6 997.9,458.8 990.4,461.7 C982.9,464.6 982.0,467.5 974.8,465.2 C967.5,462.9 973.3,464.0 968.7,454.7 C964.0,445.5 964.3,448.7 960.9,437.4 C957.4,426.1 956.5,429.0 958.3,420.8Z" fill="#000" stroke="#000" stroke-width="1" />
<polygon points="970.4,437.4 988.7,433.0 993.0,453.0 975.6,459.1" fill="#fdfffd" stroke="none" stroke-width="0" />
<polygon points="966.1,422.6 981.7,417.4 986.9,430.4 969.5,434.8" fill="#fdfffd" stroke="none" stroke-width="0" />
<line x1="966.1" y1="422.6" x2="982.6" y2="417.9" stroke="#000" stroke-width="1.2" />
<line x1="966.9" y1="426.1" x2="983.6" y2="421.4" stroke="#000" stroke-width="1.2" />
<line x1="967.8" y1="429.5" x2="984.7" y2="424.8" stroke="#000" stroke-width="1.2" />
<line x1="968.7" y1="433.0" x2="985.7" y2="428.3" stroke="#000" stroke-width="1.2" />
<line x1="974.8" y1="449.5" x2="992.1" y2="446.1" stroke="#000" stroke-width="1" />
<line x1="981.7" y1="465.2" x2="986.9" y2="477.3" stroke="#000" stroke-width="1.5" />
<line x1="992.1" y1="463.4" x2="997.4" y2="475.6" stroke="#000" stroke-width="1.5" />
<line x1="984.3" y1="474.7" x2="998.2" y2="471.3" stroke="#000" stroke-width="1.5" />
<polygon points="976.5,484.3 1002.6,479.1 1014.7,509.5 1009.5,517.3 990.4,519.9 982.6,516.5" fill="#000" stroke="none" stroke-width="0" />
<polygon points="980.0,486.9 992.1,484.3 1000.8,513.8 992.1,516.5 986.1,514.7" fill="#fdfffd" stroke="none" stroke-width="0" />
<line x1="982.6" y1="487.8" x2="991.3" y2="515.6" stroke="#000" stroke-width="1.4" />
<line x1="986.4" y1="487.1" x2="995.1" y2="514.9" stroke="#000" stroke-width="1.4" />
<line x1="990.2" y1="486.4" x2="998.9" y2="514.2" stroke="#000" stroke-width="1.4" />
<polygon points="998.2,519.1 1009.5,517.3 1012.1,526.9 1000.8,529.5" fill="#fdfffd" stroke="#000" stroke-width="1.2" />
<line x1="1001.2" y1="519.9" x2="1003.3" y2="527.7" stroke="#000" stroke-width="1" />
<line x1="1004.3" y1="519.4" x2="1006.4" y2="527.2" stroke="#000" stroke-width="1" />
<line x1="1007.4" y1="518.9" x2="1009.5" y2="526.7" stroke="#000" stroke-width="1" />
<polygon points="999.1,532.1 1015.6,526.9 1021.7,544.3 1004.7,549.5" fill="#000" stroke="none" stroke-width="0" />
<path d="M1013.0,546.9 C1017.6,556.1 1018.2,556.1 1026.9,574.7 C1035.6,593.2 1029.2,580.8 1039.1,602.5 C1048.9,624.2 1050.7,627.4 1056.5,639.9" fill="none" stroke="#fdfffd" stroke-width="14.5"/>
<path d="M1013.0,546.9 C1017.6,556.1 1018.2,556.1 1026.9,574.7 C1035.6,593.2 1029.2,580.8 1039.1,602.5 C1048.9,624.2 1050.7,627.4 1056.5,639.9" fill="none" stroke="#000" stroke-width="14.5" stroke-dasharray="2 1.6"/>
<path d="M1067.8,650.3 C1077.8,673.5 1078.3,676.8 1098.0,720.0 C1117.7,763.2 1104.7,739.3 1127.0,780.0 C1149.3,820.7 1139.0,803.7 1165.0,842.0 C1191.0,880.3 1191.7,877.3 1205.0,895.0" fill="none" stroke="#fdfffd" stroke-width="13.5"/>
<path d="M1067.8,650.3 C1077.8,673.5 1078.3,676.8 1098.0,720.0 C1117.7,763.2 1104.7,739.3 1127.0,780.0 C1149.3,820.7 1139.0,803.7 1165.0,842.0 C1191.0,880.3 1191.7,877.3 1205.0,895.0" fill="none" stroke="#000" stroke-width="13.5" stroke-dasharray="2 1.6"/>
<path d="M1087.5,696.0 L1095.0,714.0" fill="none" stroke="#000" stroke-width="13.5" stroke-linecap="butt" stroke-linejoin="round"/>
<path d="M1114.0,750.0 L1122.0,768.0" fill="none" stroke="#000" stroke-width="13.5" stroke-linecap="butt" stroke-linejoin="round"/>
<path d="M1335.0,1114.0 C1339.0,1122.3 1339.2,1122.3 1347.0,1139.0 C1354.8,1155.7 1351.5,1148.7 1358.5,1164.0 C1365.5,1179.3 1364.8,1178.0 1368.0,1185.0" fill="none" stroke="#fdfffd" stroke-width="17"/>
<path d="M1335.0,1114.0 C1339.0,1122.3 1339.2,1122.3 1347.0,1139.0 C1354.8,1155.7 1351.5,1148.7 1358.5,1164.0 C1365.5,1179.3 1364.8,1178.0 1368.0,1185.0" fill="none" stroke="#000" stroke-width="17" stroke-dasharray="2.4 1.9"/>
<path d="M1374.0,1197.0 C1379.0,1206.0 1380.3,1206.3 1389.0,1224.0 C1397.7,1241.7 1393.3,1229.7 1400.0,1250.0 C1406.7,1270.3 1404.3,1260.0 1409.0,1285.0 C1413.7,1310.0 1412.7,1296.7 1414.0,1325.0 C1415.3,1353.3 1415.0,1341.7 1413.0,1370.0 C1411.0,1398.3 1412.3,1384.7 1408.0,1410.0 C1403.7,1435.3 1406.7,1422.0 1400.0,1446.0 C1393.3,1470.0 1398.3,1457.7 1388.0,1482.0 C1377.7,1506.3 1382.3,1495.7 1369.0,1519.0 C1355.7,1542.3 1360.0,1533.3 1348.0,1552.0 C1336.0,1570.7 1338.0,1567.3 1333.0,1575.0" fill="none" stroke="#fdfffd" stroke-width="19"/>
<path d="M1374.0,1197.0 C1379.0,1206.0 1380.3,1206.3 1389.0,1224.0 C1397.7,1241.7 1393.3,1229.7 1400.0,1250.0 C1406.7,1270.3 1404.3,1260.0 1409.0,1285.0 C1413.7,1310.0 1412.7,1296.7 1414.0,1325.0 C1415.3,1353.3 1415.0,1341.7 1413.0,1370.0 C1411.0,1398.3 1412.3,1384.7 1408.0,1410.0 C1403.7,1435.3 1406.7,1422.0 1400.0,1446.0 C1393.3,1470.0 1398.3,1457.7 1388.0,1482.0 C1377.7,1506.3 1382.3,1495.7 1369.0,1519.0 C1355.7,1542.3 1360.0,1533.3 1348.0,1552.0 C1336.0,1570.7 1338.0,1567.3 1333.0,1575.0" fill="none" stroke="#000" stroke-width="19" stroke-dasharray="2.5 2.0"/>
<path d="M1107.2,1598.2 L1139.2,1621.9" fill="none" stroke="#000" stroke-width="8.3" stroke-linecap="butt" stroke-linejoin="round"/>
<polygon points="1134.3,1629.5 1139.9,1618.4 1150.3,1616.3 1165.6,1625.4 1174.0,1637.9 1174.0,1646.2 1165.6,1652.5 1155.9,1651.8 1142.0,1642.1" fill="#fdfffd" stroke="#000" stroke-width="1.8" />
<polygon points="1139.9,1625.4 1146.2,1621.2 1155.9,1629.5 1150.3,1637.9 1142.7,1635.1" fill="#000" stroke="none" stroke-width="0" />
<polygon points="1155.9,1632.3 1164.2,1629.5 1168.4,1637.9 1162.9,1646.2 1154.5,1643.4" fill="#000" stroke="none" stroke-width="0" />
<polygon points="1158.0,1635.8 1162.2,1635.1 1163.5,1640.0 1159.4,1641.4" fill="#fdfffd" stroke="none" stroke-width="0" />
<line x1="1137.8" y1="1632.3" x2="1151.7" y2="1649.0" stroke="#000" stroke-width="1.2" />
<line x1="1150.3" y1="1637.9" x2="1154.5" y2="1643.4" stroke="#000" stroke-width="1.2" />
<line x1="1168.4" y1="1640.7" x2="1173.3" y2="1640.0" stroke="#000" stroke-width="1.2" />
<line x1="1174.0" y1="1646.9" x2="1238.0" y2="1691.4" stroke="#000" stroke-width="2.8" />
<line x1="1174.3" y1="1647.1" x2="1237.7" y2="1691.3" stroke="#fdfffd" stroke-width="0.9" />
<path d="M1238.0,1690.7 C1239.4,1689.4 1239.6,1687.0 1243.5,1688.7 C1247.4,1690.3 1251.4,1693.3 1254.6,1697.7 C1257.9,1702.1 1255.2,1703.9 1257.4,1707.4 C1259.7,1711.0 1262.6,1710.7 1264.4,1713.0 C1266.2,1715.3 1265.9,1715.5 1265.1,1717.2 C1264.3,1718.8 1263.3,1720.6 1260.9,1719.9 C1258.5,1719.3 1257.4,1716.7 1254.6,1714.4 C1251.9,1712.1 1250.7,1713.5 1249.1,1710.2 C1247.5,1707.0 1249.0,1703.4 1247.7,1700.5 C1246.4,1697.6 1246.0,1699.2 1243.5,1697.7 C1241.1,1696.2 1238.6,1695.8 1237.3,1694.2 C1236.0,1692.6 1236.5,1692.0 1238.0,1690.7Z" fill="#fdfffd" stroke="#000" stroke-width="1.2" />
<polygon points="1261.6,1621.2 1272.7,1611.5 1283.9,1598.2 1290.8,1601.7 1301.9,1603.1 1314.5,1608.7 1317.2,1625.4 1306.1,1643.4 1296.4,1650.4 1279.7,1658.7 1265.8,1654.6 1263.0,1637.9" fill="#000" stroke="none" stroke-width="0" />
<polyline points="1263.0,1625.4 1276.9,1614.9 1289.4,1615.6 1296.4,1621.2 1290.8,1632.3 1281.1,1632.3 1265.8,1651.8" fill="none" stroke="#fff" stroke-width="1" />
<polyline points="1264.4,1625.4 1278.3,1632.3 1290.8,1632.3" fill="none" stroke="#fff" stroke-width="1" />
<polyline points="1268.6,1650.4 1280.4,1656.7 1295.0,1649.0 1296.4,1621.2 1311.7,1607.3" fill="none" stroke="#fff" stroke-width="1" />
<polyline points="1276.9,1614.9 1281.1,1632.3 1280.4,1656.7" fill="none" stroke="#fff" stroke-width="1" />
<line x1="1289.4" y1="1615.6" x2="1271.3" y2="1643.4" stroke="#fff" stroke-width="1" />
<line x1="1301.9" y1="1601.7" x2="1310.3" y2="1591.3" stroke="#000" stroke-width="1.5" />
<line x1="1314.5" y1="1608.0" x2="1319.3" y2="1595.5" stroke="#000" stroke-width="1.5" />
<line x1="1307.5" y1="1604.5" x2="1315.1" y2="1593.4" stroke="#000" stroke-width="1.5" />
<polygon points="1308.2,1587.8 1322.1,1571.8 1337.4,1580.9 1324.9,1596.9" fill="#000" stroke="none" stroke-width="0" />
<path d="M1372.2,1538.4 C1373.9,1542.2 1372.6,1543.4 1377.4,1550.0 C1382.2,1556.5 1379.7,1554.2 1386.7,1558.1 C1393.6,1561.9 1389.7,1560.4 1398.2,1561.5 C1406.7,1562.7 1403.3,1562.7 1412.1,1561.5 C1421.0,1560.4 1418.3,1560.6 1424.9,1558.1 C1431.5,1555.6 1429.5,1555.4 1431.8,1554.0" fill="none" stroke="#000" stroke-width="4" stroke-linecap="butt" stroke-linejoin="round"/>
<polygon points="1421.4,1547.6 1446.9,1533.2 1458.5,1530.8 1465.4,1536.0 1466.0,1545.3 1457.3,1553.4 1435.3,1562.7 1423.7,1562.7 1429.5,1558.1 1428.4,1552.3" fill="#fdfffd" stroke="#000" stroke-width="1.6" />
<polygon points="1434.2,1550.0 1450.4,1540.7 1453.9,1545.3 1437.6,1555.7" fill="#000" stroke="none" stroke-width="0" />
<line x1="1424.9" y1="1550.0" x2="1441.1" y2="1540.7" stroke="#000" stroke-width="1.2" />
<line x1="1429.5" y1="1561.5" x2="1456.2" y2="1548.8" stroke="#000" stroke-width="1.2" />
<line x1="1450.4" y1="1534.9" x2="1455.0" y2="1551.1" stroke="#000" stroke-width="1.2" />
<line x1="1456.2" y1="1534.9" x2="1459.7" y2="1547.6" stroke="#000" stroke-width="1.2" />
<line x1="1466.0" y1="1537.2" x2="1499.0" y2="1521.0" stroke="#000" stroke-width="3" />
<line x1="1466.3" y1="1537.2" x2="1498.8" y2="1521.1" stroke="#fdfffd" stroke-width="1" />
<path d="M1496.7,1522.7 L1544.2,1503.0" fill="none" stroke="#fdfffd" stroke-width="9.5"/>
<path d="M1496.7,1522.7 L1544.2,1503.0" fill="none" stroke="#000" stroke-width="9.5" stroke-dasharray="1.4 1.3"/>
<polyline points="1538.4,1500.1 1540.2,1489.7 1547.7,1485.1 1551.2,1487.4" fill="none" stroke="#000" stroke-width="1.3" />
<polyline points="1543.1,1501.3 1544.2,1490.9" fill="none" stroke="#000" stroke-width="1.3" />
<ellipse cx="1425.5" cy="1492.6" rx="4.2" ry="8.0" transform="rotate(-20.0 1425.5 1492.6)" fill="#000" stroke="#fff" stroke-width="1" />
<ellipse cx="1386.4" cy="1426.7" rx="3.6" ry="6.0" transform="rotate(-25.0 1386.4 1426.7)" fill="#000" stroke="#fff" stroke-width="1" />
<line x1="1383.6" y1="1380.8" x2="1415.0" y2="1440.0" stroke="#fff" stroke-width="0.8" />
<path d="M1361.0,1391.0 C1362.7,1389.3 1361.3,1388.0 1366.0,1386.0 C1370.7,1384.0 1369.0,1383.0 1375.0,1385.0 C1381.0,1387.0 1381.0,1389.7 1384.0,1392.0" fill="none" stroke="#fff" stroke-width="0.9" />
<ellipse cx="1005.9" cy="1648.8" rx="3.8" ry="6.5" transform="rotate(-25.0 1005.9 1648.8)" fill="#000" stroke="#fff" stroke-width="1" />
<ellipse cx="1043.4" cy="1711.3" rx="3.8" ry="6.5" transform="rotate(-25.0 1043.4 1711.3)" fill="#000" stroke="#fff" stroke-width="1" />
<path d="M977.5,1620.8 C980.0,1621.2 980.2,1622.1 985.0,1622.0 C989.8,1621.9 985.7,1623.0 992.0,1620.5 C998.3,1618.0 1000.0,1616.5 1004.0,1614.5" fill="none" stroke="#fff" stroke-width="1.1" />
<path d="M640.1,1024.1 C642.3,1023.9 643.8,1022.9 648.8,1029.1 C653.8,1035.4 656.8,1040.7 665.1,1055.4 C673.3,1070.2 680.6,1085.0 690.1,1103.0 C699.6,1121.0 703.9,1130.1 712.6,1145.5 C721.4,1160.9 730.9,1174.1 734.0,1180.0 C737.1,1185.9 734.8,1181.9 728.0,1175.0 C721.2,1168.1 710.2,1159.4 700.1,1145.5 C690.0,1131.6 686.9,1123.0 677.6,1105.5 C668.3,1088.0 661.8,1072.9 653.8,1057.9 C645.8,1042.9 640.3,1037.1 637.5,1030.4 C634.8,1023.6 637.8,1024.4 640.1,1024.1Z" fill="none" stroke="#fff" stroke-width="1" />
<polygon points="683.9,1120.5 690.6,1118.0 694.6,1126.8 687.6,1129.3" fill="#000" stroke="#fff" stroke-width="1" />
<ellipse cx="413.0" cy="857.7" rx="19.5" ry="11.5" transform="rotate(-12.0 413.0 857.7)" fill="#fdfffd" stroke="#000" stroke-width="1.2" />
<path d="M402.6,856.9 C402.6,854.1 402.5,854.1 407.8,852.5 C413.1,850.9 418.2,849.6 422.6,850.8 C427.0,851.9 425.7,853.6 424.3,856.9 C422.9,860.1 421.8,861.3 417.4,863.0 C413.0,864.6 411.8,864.6 407.8,863.0 C403.9,861.3 402.6,859.7 402.6,856.9Z" fill="#fdfffd" stroke="#000" stroke-width="1.2" />
<polyline points="397.4,852.5 424.3,841.2" fill="none" stroke="#000" stroke-width="1.2" />
<path d="M424.8,843.3 L447.4,831.1" fill="none" stroke="#fdfffd" stroke-width="6"/>
<path d="M424.8,843.3 L447.4,831.1" fill="none" stroke="#000" stroke-width="6" stroke-dasharray="1.3 1.2"/>
<line x1="447.8" y1="830.8" x2="499.9" y2="801.2" stroke="#000" stroke-width="1" />
<polygon points="649.7,721.3 643.5,733.0 631.0,733.0 624.8,721.3 631.0,709.6 643.5,709.6" fill="#fdfffd" stroke="#000" stroke-width="1.2" />
<polyline points="647.5,712.1 653.7,723.8 647.5,735.5 635.0,735.5" fill="none" stroke="#000" stroke-width="1.1" />
<ellipse cx="635.8" cy="722.3" rx="5.7" ry="6.8" transform="rotate(-20.0 635.8 722.3)" fill="#fdfffd" stroke="#000" stroke-width="1.2" />
<ellipse cx="635.8" cy="722.3" rx="2.7" ry="3.5" transform="rotate(-20.0 635.8 722.3)" fill="#000" stroke="#000" stroke-width="1" />
<line x1="623.4" y1="726.9" x2="534.7" y2="779.5" stroke="#000" stroke-width="1" />
<path d="M485.0,899.0 C487.0,895.7 486.0,895.7 491.0,889.0 C496.0,882.3 493.0,885.3 500.0,879.0 C507.0,872.7 504.0,875.2 512.0,870.0 C520.0,864.8 517.0,867.0 524.0,863.5 C531.0,860.0 530.0,860.8 533.0,859.5" fill="none" stroke="#000" stroke-width="8.5" stroke-linecap="butt" stroke-linejoin="round"/>
<path d="M485.0,899.0 C487.0,895.7 486.0,895.7 491.0,889.0 C496.0,882.3 493.0,885.3 500.0,879.0 C507.0,872.7 504.0,875.2 512.0,870.0 C520.0,864.8 517.0,867.0 524.0,863.5 C531.0,860.0 530.0,860.8 533.0,859.5" fill="none" stroke="#fdfffd" stroke-width="5.5" stroke-linecap="butt" stroke-linejoin="round"/>
<path d="M485.0,899.0 C487.0,895.7 486.0,895.7 491.0,889.0 C496.0,882.3 493.0,885.3 500.0,879.0 C507.0,872.7 504.0,875.2 512.0,870.0 C520.0,864.8 517.0,867.0 524.0,863.5 C531.0,860.0 530.0,860.8 533.0,859.5" fill="none" stroke="#000" stroke-width="2.3" stroke-linecap="butt" stroke-linejoin="round"/>
<polygon points="473.7,900.4 485.7,896.4 490.7,908.4 483.7,916.4 474.7,913.4" fill="#fdfffd" stroke="#000" stroke-width="2.0" />
<polygon points="477.2,902.9 485.7,900.9 487.2,910.4 479.7,911.9" fill="#000" stroke="none" stroke-width="0" />
<polygon points="480.2,904.9 483.7,904.4 483.7,908.4 480.7,908.4" fill="#fdfffd" stroke="none" stroke-width="0" />
<path d="M564.0,846.0 C567.7,845.2 567.3,844.5 575.0,843.5 C582.7,842.5 579.3,842.2 587.0,843.0 C594.7,843.8 591.0,842.7 598.0,846.0 C605.0,849.3 602.3,847.3 608.0,853.0 C613.7,858.7 611.5,855.7 615.0,863.0 C618.5,870.3 617.7,867.0 618.5,875.0 C619.3,883.0 619.3,879.3 617.5,887.0 C615.7,894.7 616.5,891.3 613.0,898.0 C609.5,904.7 609.0,904.0 607.0,907.0" fill="none" stroke="#000" stroke-width="8.5" stroke-linecap="butt" stroke-linejoin="round"/>
<path d="M564.0,846.0 C567.7,845.2 567.3,844.5 575.0,843.5 C582.7,842.5 579.3,842.2 587.0,843.0 C594.7,843.8 591.0,842.7 598.0,846.0 C605.0,849.3 602.3,847.3 608.0,853.0 C613.7,858.7 611.5,855.7 615.0,863.0 C618.5,870.3 617.7,867.0 618.5,875.0 C619.3,883.0 619.3,879.3 617.5,887.0 C615.7,894.7 616.5,891.3 613.0,898.0 C609.5,904.7 609.0,904.0 607.0,907.0" fill="none" stroke="#fdfffd" stroke-width="5.5" stroke-linecap="butt" stroke-linejoin="round"/>
<path d="M564.0,846.0 C567.7,845.2 567.3,844.5 575.0,843.5 C582.7,842.5 579.3,842.2 587.0,843.0 C594.7,843.8 591.0,842.7 598.0,846.0 C605.0,849.3 602.3,847.3 608.0,853.0 C613.7,858.7 611.5,855.7 615.0,863.0 C618.5,870.3 617.7,867.0 618.5,875.0 C619.3,883.0 619.3,879.3 617.5,887.0 C615.7,894.7 616.5,891.3 613.0,898.0 C609.5,904.7 609.0,904.0 607.0,907.0" fill="none" stroke="#000" stroke-width="2.3" stroke-linecap="butt" stroke-linejoin="round"/>
<path d="M899.3,711.9 C903.0,707.0 902.4,706.0 910.4,697.1 C918.5,688.1 913.2,692.4 923.4,685.0 C933.6,677.6 935.1,678.2 941.0,674.8" fill="none" stroke="#000" stroke-width="8.5" stroke-linecap="butt" stroke-linejoin="round"/>
<path d="M899.3,711.9 C903.0,707.0 902.4,706.0 910.4,697.1 C918.5,688.1 913.2,692.4 923.4,685.0 C933.6,677.6 935.1,678.2 941.0,674.8" fill="none" stroke="#fdfffd" stroke-width="5.5" stroke-linecap="butt" stroke-linejoin="round"/>
<path d="M899.3,711.9 C903.0,707.0 902.4,706.0 910.4,697.1 C918.5,688.1 913.2,692.4 923.4,685.0 C933.6,677.6 935.1,678.2 941.0,674.8" fill="none" stroke="#000" stroke-width="2.3" stroke-linecap="butt" stroke-linejoin="round"/>
<polygon points="888.5,711.5 900.5,707.5 905.5,719.5 898.5,727.5 889.5,724.5" fill="#fdfffd" stroke="#000" stroke-width="2.0" />
<polygon points="892.0,714.0 900.5,712.0 902.0,721.5 894.5,723.0" fill="#000" stroke="none" stroke-width="0" />
<polygon points="895.0,716.0 898.5,715.5 898.5,719.5 895.5,719.5" fill="#fdfffd" stroke="none" stroke-width="0" />
<path d="M975.3,659.1 C983.7,658.3 985.8,655.4 1000.4,656.6 C1015.0,657.9 1012.9,660.8 1019.1,662.9" fill="none" stroke="#000" stroke-width="8" stroke-linecap="butt" stroke-linejoin="round"/>
<path d="M975.3,659.1 C983.7,658.3 985.8,655.4 1000.4,656.6 C1015.0,657.9 1012.9,660.8 1019.1,662.9" fill="none" stroke="#fdfffd" stroke-width="5.0" stroke-linecap="butt" stroke-linejoin="round"/>
<path d="M975.3,659.1 C983.7,658.3 985.8,655.4 1000.4,656.6 C1015.0,657.9 1012.9,660.8 1019.1,662.9" fill="none" stroke="#000" stroke-width="1.7999999999999998" stroke-linecap="butt" stroke-linejoin="round"/>
<path d="M1025.4,672.9 C1027.5,677.9 1030.0,677.9 1031.7,687.9 C1033.3,697.9 1033.3,693.3 1030.4,702.9 C1027.5,712.5 1025.4,712.1 1022.9,716.7" fill="none" stroke="#000" stroke-width="8" stroke-linecap="butt" stroke-linejoin="round"/>
<path d="M1025.4,672.9 C1027.5,677.9 1030.0,677.9 1031.7,687.9 C1033.3,697.9 1033.3,693.3 1030.4,702.9 C1027.5,712.5 1025.4,712.1 1022.9,716.7" fill="none" stroke="#fdfffd" stroke-width="5.0" stroke-linecap="butt" stroke-linejoin="round"/>
<path d="M1025.4,672.9 C1027.5,677.9 1030.0,677.9 1031.7,687.9 C1033.3,697.9 1033.3,693.3 1030.4,702.9 C1027.5,712.5 1025.4,712.1 1022.9,716.7" fill="none" stroke="#000" stroke-width="1.7999999999999998" stroke-linecap="butt" stroke-linejoin="round"/>
<path d="M1270.1,1176.3 C1279.8,1175.8 1281.2,1172.1 1299.3,1174.9 C1317.3,1177.7 1311.8,1173.5 1324.3,1184.6 C1336.8,1195.7 1332.6,1200.4 1336.8,1208.3" fill="none" stroke="#000" stroke-width="8" stroke-linecap="butt" stroke-linejoin="round"/>
<path d="M1270.1,1176.3 C1279.8,1175.8 1281.2,1172.1 1299.3,1174.9 C1317.3,1177.7 1311.8,1173.5 1324.3,1184.6 C1336.8,1195.7 1332.6,1200.4 1336.8,1208.3" fill="none" stroke="#fdfffd" stroke-width="5.0" stroke-linecap="butt" stroke-linejoin="round"/>
<path d="M1270.1,1176.3 C1279.8,1175.8 1281.2,1172.1 1299.3,1174.9 C1317.3,1177.7 1311.8,1173.5 1324.3,1184.6 C1336.8,1195.7 1332.6,1200.4 1336.8,1208.3" fill="none" stroke="#000" stroke-width="1.7999999999999998" stroke-linecap="butt" stroke-linejoin="round"/>
<path d="M1327.0,1233.0 C1327.8,1229.7 1326.2,1228.2 1329.5,1223.0 C1332.8,1217.8 1334.5,1219.3 1337.0,1217.5" fill="none" stroke="#000" stroke-width="8" stroke-linecap="butt" stroke-linejoin="round"/>
<path d="M1327.0,1233.0 C1327.8,1229.7 1326.2,1228.2 1329.5,1223.0 C1332.8,1217.8 1334.5,1219.3 1337.0,1217.5" fill="none" stroke="#fdfffd" stroke-width="5.0" stroke-linecap="butt" stroke-linejoin="round"/>
<path d="M1327.0,1233.0 C1327.8,1229.7 1326.2,1228.2 1329.5,1223.0 C1332.8,1217.8 1334.5,1219.3 1337.0,1217.5" fill="none" stroke="#000" stroke-width="1.7999999999999998" stroke-linecap="butt" stroke-linejoin="round"/>
<path d="M1199.2,1233.3 C1202.9,1228.6 1201.9,1228.6 1210.3,1219.4 C1218.6,1210.1 1214.9,1212.9 1224.2,1205.5 C1233.5,1198.1 1233.5,1199.9 1238.1,1197.1" fill="none" stroke="#000" stroke-width="8" stroke-linecap="butt" stroke-linejoin="round"/>
<path d="M1199.2,1233.3 C1202.9,1228.6 1201.9,1228.6 1210.3,1219.4 C1218.6,1210.1 1214.9,1212.9 1224.2,1205.5 C1233.5,1198.1 1233.5,1199.9 1238.1,1197.1" fill="none" stroke="#fdfffd" stroke-width="5.0" stroke-linecap="butt" stroke-linejoin="round"/>
<path d="M1199.2,1233.3 C1202.9,1228.6 1201.9,1228.6 1210.3,1219.4 C1218.6,1210.1 1214.9,1212.9 1224.2,1205.5 C1233.5,1198.1 1233.5,1199.9 1238.1,1197.1" fill="none" stroke="#000" stroke-width="1.7999999999999998" stroke-linecap="butt" stroke-linejoin="round"/>
<polygon points="1195.0,1227.7 1204.7,1224.9 1211.7,1238.8 1201.9,1243.0" fill="#fdfffd" stroke="#000" stroke-width="1.4" />
<path d="M773.0,1389.8 C777.6,1382.9 773.0,1380.6 786.9,1369.0 C800.8,1357.4 805.4,1359.7 814.7,1355.1" fill="none" stroke="#000" stroke-width="8" stroke-linecap="butt" stroke-linejoin="round"/>
<path d="M773.0,1389.8 C777.6,1382.9 773.0,1380.6 786.9,1369.0 C800.8,1357.4 805.4,1359.7 814.7,1355.1" fill="none" stroke="#fdfffd" stroke-width="5.0" stroke-linecap="butt" stroke-linejoin="round"/>
<path d="M773.0,1389.8 C777.6,1382.9 773.0,1380.6 786.9,1369.0 C800.8,1357.4 805.4,1359.7 814.7,1355.1" fill="none" stroke="#000" stroke-width="1.7999999999999998" stroke-linecap="butt" stroke-linejoin="round"/>
<polygon points="756.3,1392.5 768.3,1388.5 773.3,1400.5 766.3,1408.5 757.3,1405.5" fill="#fdfffd" stroke="#000" stroke-width="2.0" />
<polygon points="759.8,1395.0 768.3,1393.0 769.8,1402.5 762.3,1404.0" fill="#000" stroke="none" stroke-width="0" />
<polygon points="762.8,1397.0 766.3,1396.5 766.3,1400.5 763.3,1400.5" fill="#fdfffd" stroke="none" stroke-width="0" />
<path d="M851.2,1339.4 C861.0,1340.6 863.9,1334.2 880.7,1342.9 C897.5,1351.6 897.5,1347.5 901.6,1365.5 C905.7,1383.5 895.8,1386.4 892.9,1396.8" fill="none" stroke="#000" stroke-width="8" stroke-linecap="butt" stroke-linejoin="round"/>
<path d="M851.2,1339.4 C861.0,1340.6 863.9,1334.2 880.7,1342.9 C897.5,1351.6 897.5,1347.5 901.6,1365.5 C905.7,1383.5 895.8,1386.4 892.9,1396.8" fill="none" stroke="#fdfffd" stroke-width="5.0" stroke-linecap="butt" stroke-linejoin="round"/>
<path d="M851.2,1339.4 C861.0,1340.6 863.9,1334.2 880.7,1342.9 C897.5,1351.6 897.5,1347.5 901.6,1365.5 C905.7,1383.5 895.8,1386.4 892.9,1396.8" fill="none" stroke="#000" stroke-width="1.7999999999999998" stroke-linecap="butt" stroke-linejoin="round"/>
<ellipse cx="737.4" cy="787.8" rx="7.0" ry="13.0" transform="rotate(-15.0 737.4 787.8)" fill="#fdfffd" stroke="#000" stroke-width="1.2" />
<ellipse cx="744.3" cy="786.9" rx="6.0" ry="11.0" transform="rotate(-15.0 744.3 786.9)" fill="#fdfffd" stroke="#000" stroke-width="1.2" />
<path d="M746.1,786.9 L737.5,789.7" fill="none" stroke="#000" stroke-width="11.6" stroke-linecap="butt" stroke-linejoin="round"/>
<path d="M746.1,786.9 L737.5,789.7" fill="none" stroke="#fdfffd" stroke-width="9.2" stroke-linecap="butt" stroke-linejoin="round"/>
<ellipse cx="737.5" cy="789.7" rx="2.2" ry="5.8" transform="rotate(161.6 737.5 789.7)" fill="#fdfffd" stroke="#000" stroke-width="1.2" />
<ellipse cx="746.1" cy="786.9" rx="4.0" ry="8.0" transform="rotate(161.6 746.1 786.9)" fill="#fdfffd" stroke="#000" stroke-width="1.2" />
<ellipse cx="747.5" cy="786.4" rx="2.9" ry="5.9" transform="rotate(161.6 747.5 786.4)" fill="#fdfffd" stroke="#000" stroke-width="1.1" />
<path d="M769.5,779.1 L748.9,786.0" fill="none" stroke="#000" stroke-width="8" stroke-linecap="round" stroke-linejoin="round"/>
<path d="M769.5,779.1 L748.9,786.0" fill="none" stroke="#fdfffd" stroke-width="5.6" stroke-linecap="round" stroke-linejoin="round"/>
<ellipse cx="767.4" cy="779.8" rx="2.0" ry="3.8" transform="rotate(161.6 767.4 779.8)" fill="none" stroke="#000" stroke-width="1.2" />
<ellipse cx="762.1" cy="781.6" rx="2.0" ry="3.8" transform="rotate(161.6 762.1 781.6)" fill="none" stroke="#000" stroke-width="1.2" />
<ellipse cx="756.8" cy="783.3" rx="2.0" ry="3.8" transform="rotate(161.6 756.8 783.3)" fill="none" stroke="#000" stroke-width="1.2" />
<ellipse cx="751.5" cy="785.1" rx="2.0" ry="3.8" transform="rotate(161.6 751.5 785.1)" fill="none" stroke="#000" stroke-width="1.2" />
<path d="M771.3,777.3 C775.3,776.2 774.7,775.0 783.4,773.9 C792.1,772.7 788.6,772.1 797.3,773.9 C806.0,775.6 804.0,772.7 809.5,779.1 C815.0,785.5 812.1,783.1 813.9,793.0 C815.6,802.8 813.3,799.1 814.7,808.6 C816.2,818.2 817.0,817.3 818.2,821.7" fill="none" stroke="#000" stroke-width="1" stroke-dasharray="9 2"/>
<path d="M819.1,829.5 C821.1,833.0 819.1,833.3 825.2,839.9 C831.2,846.6 828.0,844.8 837.3,849.5 C846.6,854.1 847.7,852.4 853.0,853.8" fill="none" stroke="#fff" stroke-width="1" />
<polyline points="880.8,853.8 887.7,852.1 889.5,855.6 908.6,846.9" fill="none" stroke="#fff" stroke-width="1" />
<path d="M1260.3,802.2 L1268.4,798.2" fill="none" stroke="#000" stroke-width="12.325" stroke-linecap="butt" stroke-linejoin="round"/>
<path d="M1260.3,802.2 L1268.4,798.2" fill="none" stroke="#fdfffd" stroke-width="9.924999999999999" stroke-linecap="butt" stroke-linejoin="round"/>
<ellipse cx="1268.4" cy="798.2" rx="2.5" ry="6.2" transform="rotate(-26.6 1268.4 798.2)" fill="#fdfffd" stroke="#000" stroke-width="1.2" />
<ellipse cx="1260.3" cy="802.2" rx="4.5" ry="8.5" transform="rotate(-26.6 1260.3 802.2)" fill="#fdfffd" stroke="#000" stroke-width="1.2" />
<ellipse cx="1259.0" cy="802.9" rx="3.2" ry="6.3" transform="rotate(-26.6 1259.0 802.9)" fill="#fdfffd" stroke="#000" stroke-width="1.1" />
<path d="M1201.9,831.4 L1257.7,803.6" fill="none" stroke="#000" stroke-width="8.5" stroke-linecap="round" stroke-linejoin="round"/>
<path d="M1201.9,831.4 L1257.7,803.6" fill="none" stroke="#fdfffd" stroke-width="6.1" stroke-linecap="round" stroke-linejoin="round"/>
<ellipse cx="1233.3" cy="815.8" rx="2.0" ry="4.0" transform="rotate(-26.6 1233.3 815.8)" fill="none" stroke="#000" stroke-width="1.2" />
<ellipse cx="1243.1" cy="810.9" rx="2.0" ry="4.0" transform="rotate(-26.6 1243.1 810.9)" fill="none" stroke="#000" stroke-width="1.2" />
<ellipse cx="1252.8" cy="806.0" rx="2.0" ry="4.0" transform="rotate(-26.6 1252.8 806.0)" fill="none" stroke="#000" stroke-width="1.2" />
<line x1="1107.4" y1="885.7" x2="1199.2" y2="834.2" stroke="#000" stroke-width="1" />
<line x1="1082.4" y1="899.6" x2="1001.7" y2="949.6" stroke="#000" stroke-width="1" />
<polygon points="927.8,946.0 934.8,932.1 940.8,931.2 979.1,939.9 997.3,950.3 1021.7,979.0 1019.9,987.7 1004.3,993.8 964.3,973.8 960.8,958.2 948.7,963.4 931.3,954.7" fill="#000" stroke="none" stroke-width="0" />
<polyline points="931.3,945.1 937.4,934.7 976.5,942.5 965.2,950.3 933.9,946.9" fill="none" stroke="#fff" stroke-width="1" />
<polyline points="965.2,950.3 966.1,970.3 1002.6,989.4 1018.2,985.1 1019.1,979.9 996.5,952.9 981.7,958.2 965.2,950.3" fill="none" stroke="#fff" stroke-width="1" />
<polyline points="981.7,958.2 982.6,979.0" fill="none" stroke="#fff" stroke-width="1" />
<polyline points="983.4,959.9 997.3,980.8 1018.2,984.2" fill="none" stroke="#fff" stroke-width="1" />
<ellipse cx="973.0" cy="961.6" rx="4.0" ry="7.0" transform="rotate(-25.0 973.0 961.6)" fill="none" stroke="#fff" stroke-width="1" />
<polygon points="952.1,773.1 979.0,760.6 988.3,760.1 989.2,778.6 977.2,784.2 958.6,792.5 953.1,788.8" fill="#000" stroke="none" stroke-width="0" />
<polygon points="954.9,775.8 959.6,774.0 964.2,782.3 960.5,787.9 955.8,784.2" fill="#fdfffd" stroke="none" stroke-width="0" />
<ellipse cx="959.1" cy="780.5" rx="1.8" ry="3.2" transform="rotate(-30.0 959.1 780.5)" fill="#000" stroke="#000" stroke-width="0.5" />
<polygon points="969.7,770.3 977.2,766.6 984.6,769.4 985.0,779.6 977.2,781.4" fill="#fdfffd" stroke="none" stroke-width="0" />
<line x1="973.5" y1="771.2" x2="974.4" y2="779.6" stroke="#000" stroke-width="1.2" />
<line x1="977.2" y1="770.5" x2="978.1" y2="778.8" stroke="#000" stroke-width="1.2" />
<line x1="980.9" y1="769.7" x2="981.8" y2="778.1" stroke="#000" stroke-width="1.2" />
<polyline points="959.6,789.7 977.2,782.3 984.6,779.6" fill="none" stroke="#fff" stroke-width="1" />
<path d="M988.3,764.7 C992.2,760.8 976.1,768.2 1000.0,753.0 C1023.9,737.8 1030.0,735.7 1060.0,719.0 C1090.0,702.3 1080.0,708.3 1090.0,703.0" fill="none" stroke="#000" stroke-width="3.6" stroke-linecap="butt" stroke-linejoin="round"/>
<path d="M988.3,764.7 C992.2,760.8 976.1,768.2 1000.0,753.0 C1023.9,737.8 1030.0,735.7 1060.0,719.0 C1090.0,702.3 1080.0,708.3 1090.0,703.0" fill="none" stroke="#fdfffd" stroke-width="1.6" stroke-linecap="butt" stroke-linejoin="round"/>
<path d="M989.2,770.3 C993.5,766.4 977.7,773.8 1002.0,758.5 C1026.3,743.2 1032.0,741.3 1062.0,724.5 C1092.0,707.7 1082.0,713.5 1092.0,708.0" fill="none" stroke="#000" stroke-width="3.6" stroke-linecap="butt" stroke-linejoin="round"/>
<path d="M989.2,770.3 C993.5,766.4 977.7,773.8 1002.0,758.5 C1026.3,743.2 1032.0,741.3 1062.0,724.5 C1092.0,707.7 1082.0,713.5 1092.0,708.0" fill="none" stroke="#fdfffd" stroke-width="1.6" stroke-linecap="butt" stroke-linejoin="round"/>
<polygon points="1389.2,422.8 1392.7,421.0 1448.3,451.8 1448.3,457.6" fill="#000" stroke="none" stroke-width="0" />
<polygon points="1422.8,439.0 1433.3,431.6 1434.4,441.8 1427.0,443.7" fill="#fdfffd" stroke="#000" stroke-width="1.3" />
<polygon points="1435.6,446.5 1446.0,439.0 1447.4,450.2 1439.5,451.8" fill="#fdfffd" stroke="#000" stroke-width="1.3" />
<line x1="1427.5" y1="439.0" x2="1432.1" y2="436.7" stroke="#000" stroke-width="1" />
<line x1="1440.2" y1="446.5" x2="1444.8" y2="444.1" stroke="#000" stroke-width="1" />
<polyline points="1358.4,453.4 1406.6,478.9 1441.8,459.9" fill="none" stroke="#fff" stroke-width="1" />
<line x1="1406.6" y1="478.9" x2="1406.6" y2="548.0" stroke="#fff" stroke-width="1" />
<line x1="1441.8" y1="459.9" x2="1444.8" y2="534.1" stroke="#fff" stroke-width="0.8" />
<path d="M1381.6,528.3 C1381.8,535.6 1379.7,536.8 1382.3,550.3 C1384.8,563.8 1381.9,559.2 1389.2,568.8 C1396.6,578.5 1390.8,575.8 1404.3,579.3 C1417.8,582.7 1410.5,580.8 1429.8,579.3 C1449.1,577.7 1444.5,575.8 1462.2,574.6 C1480.0,573.5 1476.1,575.4 1483.1,575.8" fill="none" stroke="#000" stroke-width="16.5" stroke-linecap="butt" stroke-linejoin="round"/>
<path d="M1392.7,534.1 C1393.9,539.9 1391.5,541.8 1396.2,551.4 C1400.8,561.1 1395.4,558.0 1406.6,563.0 C1417.8,568.1 1412.8,566.5 1429.8,566.5 C1446.8,566.5 1442.1,563.8 1457.6,563.0 C1473.0,562.3 1469.9,563.8 1476.1,564.2" fill="none" stroke="#000" stroke-width="13" stroke-linecap="butt" stroke-linejoin="round"/>
<path d="M1448.3,549.1 C1448.9,543.9 1448.0,540.9 1453.0,534.1 C1457.9,527.3 1458.8,525.5 1466.9,523.6 C1474.9,521.8 1474.4,522.2 1483.1,527.1 C1491.7,532.1 1492.5,535.4 1499.3,542.2 C1506.1,549.0 1501.2,547.7 1508.6,552.6 C1516.0,557.6 1517.2,556.4 1527.1,560.7 C1537.0,565.0 1537.6,562.3 1545.7,568.8 C1553.7,575.3 1554.5,577.0 1557.2,585.1 C1560.0,593.1 1559.2,592.5 1556.1,599.0 C1553.0,605.4 1552.1,607.2 1545.7,609.4 C1539.2,611.5 1541.6,611.7 1531.7,607.1 C1521.9,602.4 1520.9,600.0 1508.6,592.0 C1496.2,584.0 1497.8,585.0 1485.4,576.9 C1473.0,568.9 1471.5,568.1 1462.2,561.9 C1453.0,555.7 1454.3,557.2 1450.6,553.8 C1446.9,550.4 1447.7,554.4 1448.3,549.1Z" fill="#000" stroke="#000" stroke-width="1" />
<path d="M1483.1,575.8 C1485.8,579.3 1487.3,576.2 1491.2,586.2 C1495.1,596.3 1489.3,594.3 1494.7,605.9 C1500.1,617.5 1495.1,614.6 1507.4,621.0 C1519.8,627.3 1514.4,625.5 1531.7,624.9 C1549.1,624.3 1540.2,623.4 1559.6,619.1 C1578.9,614.9 1573.5,612.9 1589.7,612.2 C1605.9,611.4 1599.3,611.9 1608.2,616.8 C1617.1,621.7 1613.6,623.4 1616.3,626.8" fill="none" stroke="#000" stroke-width="16.5" stroke-linecap="butt" stroke-linejoin="round"/>
<path d="M1389.2,538.7 C1390.0,544.9 1388.1,546.8 1391.5,557.2 C1395.0,567.7 1390.0,564.2 1399.7,570.0 C1409.3,575.8 1404.3,573.5 1420.5,574.6 C1436.7,575.8 1431.3,575.0 1448.3,573.5 C1465.3,571.9 1463.8,571.1 1471.5,570.0" fill="none" stroke="#fff" stroke-width="1" />
<path d="M1459.9,541.0 C1464.0,541.8 1464.8,541.6 1476.1,549.1 C1487.5,556.7 1494.5,563.5 1508.6,573.5 C1522.6,583.5 1527.5,586.1 1536.4,592.0 C1545.3,598.0 1545.2,596.8 1546.8,599.0 C1548.4,601.1 1547.4,601.8 1543.3,601.3 C1539.3,600.7 1540.2,603.1 1529.4,596.6 C1518.6,590.2 1511.0,583.7 1497.0,573.5 C1482.9,563.2 1478.1,559.1 1469.2,552.6 C1460.3,546.1 1460.9,548.4 1458.7,545.7 C1456.6,543.0 1455.9,540.2 1459.9,541.0Z" fill="none" stroke="#fff" stroke-width="1" />
<path d="M1501.6,589.7 C1502.4,595.1 1499.3,597.0 1503.9,605.9 C1508.6,614.8 1504.7,611.7 1515.5,616.3 C1526.3,621.0 1519.4,619.8 1536.4,619.8 C1553.4,619.8 1548.0,616.7 1566.5,616.3 C1585.1,616.0 1577.3,616.0 1592.0,618.7 C1606.7,621.4 1604.4,622.5 1610.5,624.4" fill="none" stroke="#fff" stroke-width="1" />
<polygon points="1402.4,548.4 1448.3,538.2 1450.2,551.4 1439.0,557.7 1413.6,556.8 1404.3,553.8" fill="#fdfffd" stroke="none" stroke-width="0" />
<polygon points="1406.6,548.0 1448.3,536.4 1448.3,539.9 1407.1,549.8" fill="#000" stroke="none" stroke-width="0" />
<polygon points="1608.2,622.1 1624.4,621.0 1640.7,633.7 1639.5,648.8 1629.1,647.6 1609.4,637.2" fill="#fdfffd" stroke="#000" stroke-width="1.6" />
<polygon points="1621.0,627.9 1633.7,629.1 1638.8,634.9 1633.7,641.8 1623.3,637.2" fill="#000" stroke="none" stroke-width="0" />
<line x1="1612.9" y1="624.4" x2="1615.2" y2="638.4" stroke="#000" stroke-width="1.2" />
<line x1="1618.7" y1="624.4" x2="1620.3" y2="639.5" stroke="#000" stroke-width="1.2" />
<ellipse cx="1636.5" cy="645.8" rx="1.8" ry="2.2" transform="rotate(0.0 1636.5 645.8)" fill="#fdfffd" stroke="#000" stroke-width="1" />
<line x1="716.5" y1="120.1" x2="687.7" y2="171.4" stroke="#000" stroke-width="1.8" />
<line x1="566.3" y1="181.4" x2="610.1" y2="222.7" stroke="#000" stroke-width="1.6" />
<line x1="806.6" y1="183.9" x2="822.9" y2="242.8" stroke="#000" stroke-width="1.5" />
<line x1="933.0" y1="105.5" x2="902.7" y2="141.7" stroke="#000" stroke-width="1.8" />
<line x1="950.5" y1="145.2" x2="915.5" y2="181.4" stroke="#000" stroke-width="1.6" />
<line x1="989.0" y1="200.0" x2="942.4" y2="218.7" stroke="#000" stroke-width="1.0" />
<line x1="1076.5" y1="219.9" x2="1040.4" y2="256.0" stroke="#000" stroke-width="1.5" />
<line x1="1017.0" y1="335.4" x2="968.0" y2="331.9" stroke="#000" stroke-width="1.8" />
<line x1="1056.7" y1="417.0" x2="1010.0" y2="435.7" stroke="#000" stroke-width="1.3" />
<line x1="1369.1" y1="380.0" x2="1382.3" y2="427.5" stroke="#000" stroke-width="1.5" />
<line x1="169.0" y1="332.9" x2="213.3" y2="375.4" stroke="#000" stroke-width="1.6" />
<line x1="122.7" y1="491.6" x2="168.9" y2="533.1" stroke="#000" stroke-width="2.2" />
<line x1="785.3" y1="420.5" x2="822.9" y2="394.2" stroke="#000" stroke-width="1.0" />
<line x1="794.0" y1="455.5" x2="815.4" y2="443.0" stroke="#000" stroke-width="1.0" />
<line x1="1087.7" y1="566.9" x2="1043.4" y2="588.6" stroke="#000" stroke-width="1.2" />
<line x1="1101.7" y1="629.4" x2="1025.2" y2="665.0" stroke="#000" stroke-width="2.2" />
<line x1="654.1" y1="650.1" x2="641.6" y2="696.4" stroke="#000" stroke-width="1.5" />
<line x1="741.7" y1="721.4" x2="743.0" y2="772.7" stroke="#000" stroke-width="1.6" />
<line x1="1263.0" y1="737.5" x2="1250.5" y2="792.5" stroke="#000" stroke-width="1.4" />
<line x1="366.6" y1="807.7" x2="401.4" y2="841.0" stroke="#000" stroke-width="1.6" />
<line x1="1378.0" y1="978.5" x2="1330.5" y2="991.0" stroke="#000" stroke-width="1.2" />
<line x1="493.9" y1="902.0" x2="524.3" y2="955.0" stroke="#000" stroke-width="1.6" />
<line x1="816.5" y1="962.8" x2="832.8" y2="1019.1" stroke="#000" stroke-width="1.5" />
<line x1="955.4" y1="966.6" x2="925.4" y2="1019.1" stroke="#000" stroke-width="2.6" />
<line x1="1003.0" y1="1082.5" x2="948.0" y2="1172.5" stroke="#000" stroke-width="1.8" />
<line x1="963.0" y1="1189.0" x2="1070.5" y2="1190.0" stroke="#000" stroke-width="1.8" />
<line x1="1423.9" y1="1184.8" x2="1339.1" y2="1215.4" stroke="#000" stroke-width="1.5" />
<line x1="712.5" y1="1305.0" x2="765.0" y2="1275.0" stroke="#000" stroke-width="2.4" />
<line x1="785.0" y1="1380.0" x2="817.5" y2="1432.5" stroke="#000" stroke-width="1.6" />
<path class="lb" d="M745.26,112.30 L740.95,112.30 L740.95,84.86 Q739.39,86.34 736.87,87.82 Q734.35,89.31 732.34,90.05 L732.34,85.89 Q735.95,84.19 738.65,81.77 Q741.36,79.35 742.48,77.08 L745.26,77.08 Z" fill="#000"/>
<text class="lb" x="947.9" y="114.5" font-size="49" >2</text>
<text class="lb" x="975.2" y="114.5" font-size="49" >7</text>
<path class="lb" d="M982.16,163.60 L977.85,163.60 L977.85,136.16 Q976.29,137.64 973.77,139.12 Q971.25,140.61 969.24,141.35 L969.24,137.19 Q972.85,135.49 975.55,133.07 Q978.26,130.65 979.38,128.38 L982.16,128.38 Z" fill="#000"/>
<text class="lb" x="991.2" y="163.6" font-size="49" >7</text>
<text class="lb" x="784.1" y="173.6" font-size="49" >3</text>
<text class="lb" x="533.1" y="178.6" font-size="49" >4</text>
<path class="lb" d="M1020.66,209.10 L1016.35,209.10 L1016.35,181.66 Q1014.79,183.14 1012.27,184.62 Q1009.75,186.11 1007.74,186.85 L1007.74,182.69 Q1011.35,180.99 1014.05,178.57 Q1016.76,176.15 1017.88,173.88 L1020.66,173.88 Z" fill="#000"/>
<text class="lb" x="1029.7" y="209.1" font-size="49" >8</text>
<path class="lb" d="M1108.16,225.40 L1103.85,225.40 L1103.85,197.96 Q1102.29,199.44 1099.77,200.92 Q1097.25,202.41 1095.24,203.15 L1095.24,198.99 Q1098.85,197.29 1101.55,194.87 Q1104.26,192.45 1105.38,190.18 L1108.16,190.18 Z" fill="#000"/>
<text class="lb" x="1117.2" y="225.4" font-size="49" >9</text>
<text class="lb" x="1036.5" y="347.9" font-size="49" >2</text>
<text class="lb" x="1063.8" y="347.9" font-size="49" >0</text>
<text class="lb" x="1336.7" y="363.4" font-size="49" >2</text>
<text class="lb" x="1364.0" y="363.4" font-size="49" >2</text>
<text class="lb" x="148.0" y="336.4" font-size="49" >8</text>
<text class="lb" x="746.3" y="452.7" font-size="49" >5</text>
<text class="lb" x="1076.7" y="428.4" font-size="49" >2</text>
<path class="lb" d="M1122.21,428.40 L1117.90,428.40 L1117.90,400.96 Q1116.35,402.44 1113.82,403.92 Q1111.30,405.41 1109.29,406.15 L1109.29,401.99 Q1112.90,400.29 1115.60,397.87 Q1118.31,395.45 1119.43,393.18 L1122.21,393.18 Z" fill="#000"/>
<text class="lb" x="72.5" y="482.7" font-size="49" >2</text>
<text class="lb" x="99.8" y="482.7" font-size="49" >8</text>
<text class="lb" x="1106.2" y="584.8" font-size="49" >2</text>
<text class="lb" x="1133.5" y="584.8" font-size="49" >3</text>
<text class="lb" x="648.4" y="635.7" font-size="49" >5</text>
<path class="lb" d="M1134.56,646.50 L1130.25,646.50 L1130.25,619.06 Q1128.69,620.54 1126.17,622.02 Q1123.65,623.51 1121.64,624.25 L1121.64,620.09 Q1125.25,618.39 1127.95,615.97 Q1130.66,613.55 1131.78,611.28 L1134.56,611.28 Z" fill="#000"/>
<path class="lb" d="M1158.57,646.50 L1154.27,646.50 L1154.27,619.06 Q1152.71,620.54 1150.19,622.02 Q1147.66,623.51 1145.65,624.25 L1145.65,620.09 Q1149.27,618.39 1151.97,615.97 Q1154.67,613.55 1155.80,611.28 L1158.57,611.28 Z" fill="#000"/>
<text class="lb" x="318.1" y="719.2" font-size="49" >6</text>
<path class="lb" d="M734.66,706.10 L730.35,706.10 L730.35,678.66 Q728.79,680.14 726.27,681.62 Q723.75,683.11 721.74,683.85 L721.74,679.69 Q725.35,677.99 728.05,675.57 Q730.76,673.15 731.88,670.88 L734.66,670.88 Z" fill="#000"/>
<text class="lb" x="743.7" y="706.1" font-size="49" >0</text>
<path class="lb" d="M1263.46,719.70 L1259.15,719.70 L1259.15,692.26 Q1257.59,693.74 1255.07,695.22 Q1252.55,696.71 1250.54,697.45 L1250.54,693.29 Q1254.15,691.59 1256.85,689.17 Q1259.56,686.75 1260.68,684.48 L1263.46,684.48 Z" fill="#000"/>
<text class="lb" x="1272.5" y="719.7" font-size="49" >2</text>
<path class="lb" d="M322.96,799.70 L318.65,799.70 L318.65,772.26 Q317.09,773.74 314.57,775.22 Q312.05,776.71 310.04,777.45 L310.04,773.29 Q313.65,771.59 316.35,769.17 Q319.06,766.75 320.18,764.48 L322.96,764.48 Z" fill="#000"/>
<text class="lb" x="332.0" y="799.7" font-size="49" >6</text>
<text class="lb" x="1409.0" y="994.7" font-size="49" >2</text>
<text class="lb" x="1436.3" y="994.7" font-size="49" >4</text>
<path class="lb" d="M535.66,1004.00 L531.35,1004.00 L531.35,976.56 Q529.79,978.04 527.27,979.52 Q524.75,981.01 522.74,981.75 L522.74,977.59 Q526.35,975.89 529.05,973.47 Q531.76,971.05 532.88,968.78 L535.66,968.78 Z" fill="#000"/>
<path class="lb" d="M559.67,1004.00 L555.37,1004.00 L555.37,976.56 Q553.81,978.04 551.29,979.52 Q548.76,981.01 546.75,981.75 L546.75,977.59 Q550.37,975.89 553.07,973.47 Q555.77,971.05 556.90,968.78 L559.67,968.78 Z" fill="#000"/>
<text class="lb" x="807.5" y="1076.4" font-size="49" >2</text>
<text class="lb" x="834.8" y="1076.4" font-size="49" >6</text>
<path class="lb" d="M917.06,1068.90 L912.75,1068.90 L912.75,1041.46 Q911.19,1042.94 908.67,1044.42 Q906.15,1045.91 904.14,1046.65 L904.14,1042.49 Q907.75,1040.79 910.45,1038.37 Q913.16,1035.95 914.28,1033.68 L917.06,1033.68 Z" fill="#000"/>
<text class="lb" x="926.1" y="1068.9" font-size="49" >3</text>
<path class="lb" d="M1447.96,1195.70 L1443.65,1195.70 L1443.65,1168.26 Q1442.09,1169.74 1439.57,1171.22 Q1437.05,1172.71 1435.04,1173.45 L1435.04,1169.29 Q1438.65,1167.59 1441.35,1165.17 Q1444.06,1162.75 1445.18,1160.48 L1447.96,1160.48 Z" fill="#000"/>
<path class="lb" d="M1471.97,1195.70 L1467.67,1195.70 L1467.67,1168.26 Q1466.11,1169.74 1463.59,1171.22 Q1461.06,1172.71 1459.05,1173.45 L1459.05,1169.29 Q1462.67,1167.59 1465.37,1165.17 Q1468.07,1162.75 1469.20,1160.48 L1471.97,1160.48 Z" fill="#000"/>
<text class="lb" x="893.1" y="1227.9" font-size="49" >2</text>
<text class="lb" x="920.4" y="1227.9" font-size="49" >5</text>
<text class="lb" x="681.0" y="1334.7" font-size="49" >2</text>
<path class="lb" d="M822.46,1481.70 L818.15,1481.70 L818.15,1454.26 Q816.59,1455.74 814.07,1457.22 Q811.55,1458.71 809.54,1459.45 L809.54,1455.29 Q813.15,1453.59 815.85,1451.17 Q818.56,1448.75 819.68,1446.48 L822.46,1446.48 Z" fill="#000"/>
<path class="lb" d="M846.47,1481.70 L842.17,1481.70 L842.17,1454.26 Q840.61,1455.74 838.09,1457.22 Q835.56,1458.71 833.55,1459.45 L833.55,1455.29 Q837.17,1453.59 839.87,1451.17 Q842.57,1448.75 843.70,1446.48 L846.47,1446.48 Z" fill="#000"/>
<text x="1566" y="1785" font-size="39" style="font-family:'Liberation Serif',serif"><tspan fill="#4a6fb5">m</tspan><tspan fill="#4caf3c">o</tspan><tspan fill="#e85aa0">t</tspan><tspan fill="#2fa84a">o</tspan><tspan fill="#e8541c">r</tspan><tspan fill="#f09a1a">u</tspan><tspan fill="#f5c81e">f</tspan></text>
<text x="1694" y="1785" font-size="14.5" style="fill:#333">.de</text>
</svg>
</body></html>
